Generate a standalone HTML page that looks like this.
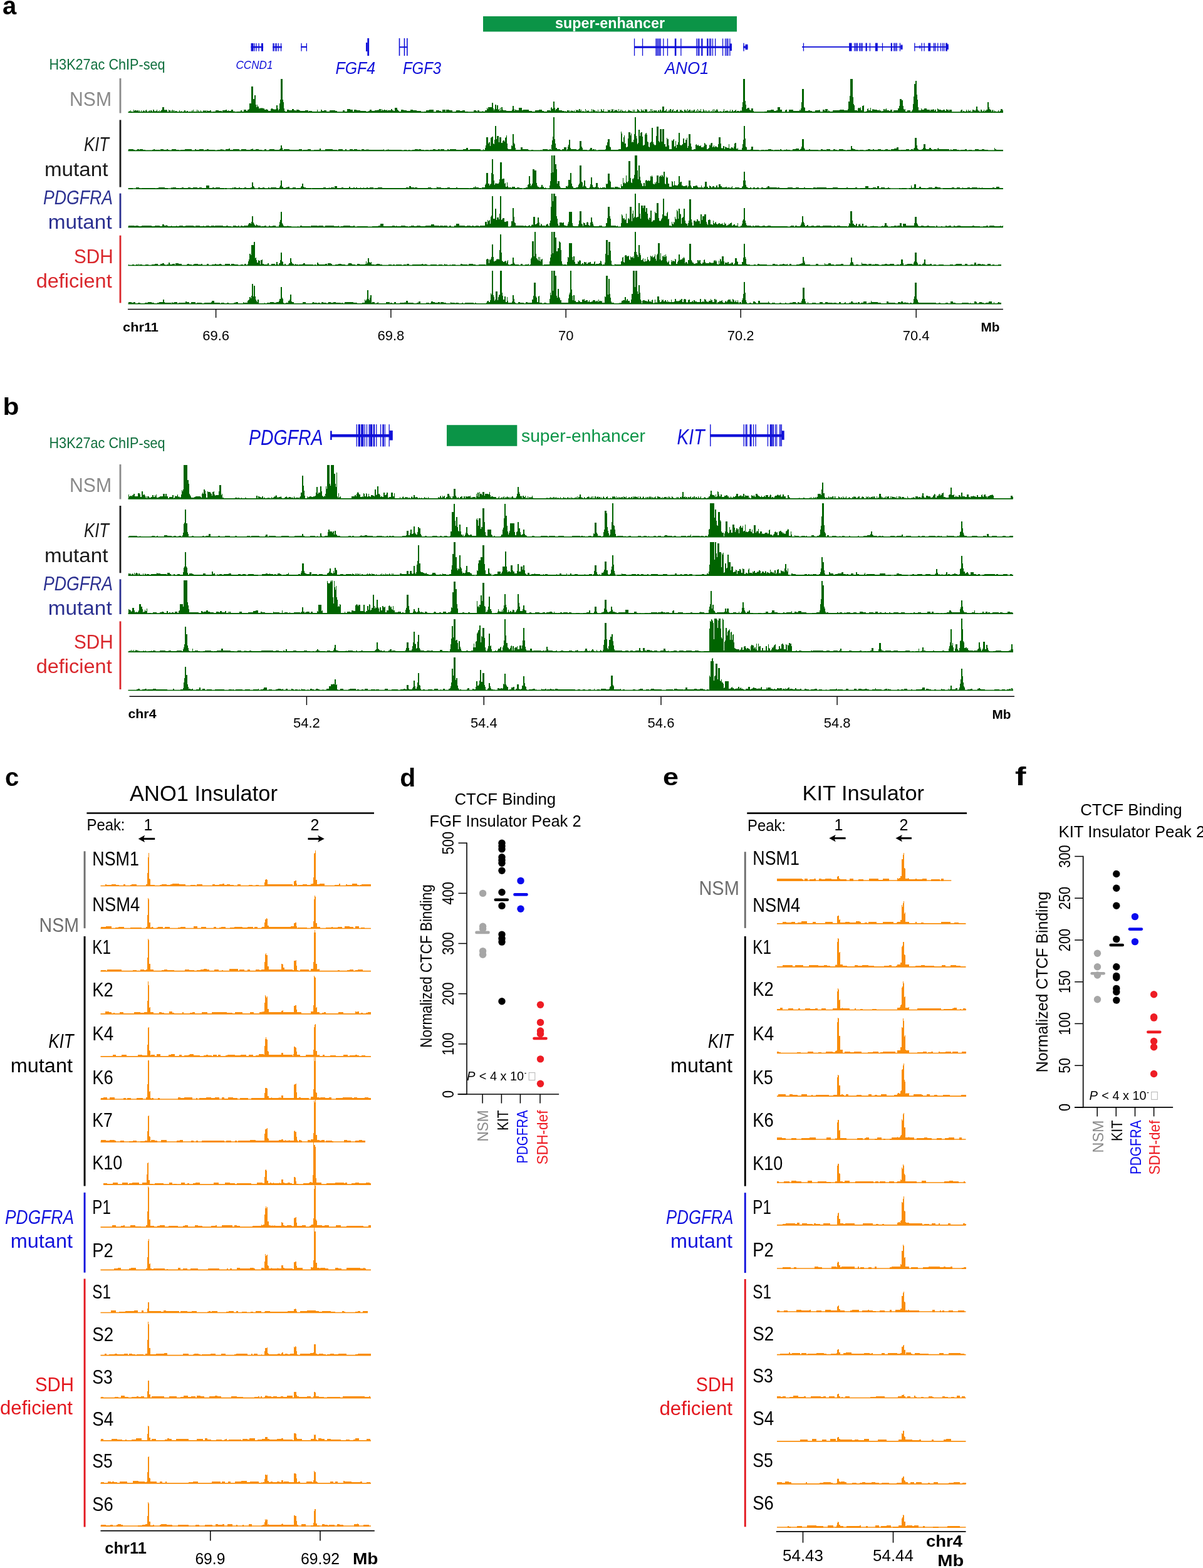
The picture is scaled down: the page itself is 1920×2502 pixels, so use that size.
<!DOCTYPE html>
<html><head><meta charset="utf-8"><title>Figure</title>
<style>
html,body{margin:0;padding:0;background:#fff;}
body{width:1920px;height:2502px;overflow:hidden;}
svg{display:block;}
text{font-family:"Liberation Sans", Arial, sans-serif;}
</style></head>
<body>
<svg width="1920" height="2502" viewBox="0 0 1920 2502">
<rect x="0" y="0" width="1920" height="2502" fill="#fff"/>
<text x="4.0" y="22.5" font-size="40" fill="#000" font-weight="bold">a</text>
<rect x="771.0" y="26.0" width="405.0" height="24.5" fill="#0B9447"/>
<text x="886.0" y="45.4" font-size="23" fill="#fff" font-weight="bold" textLength="175.0" lengthAdjust="spacingAndGlyphs">super-enhancer</text>
<rect x="400.6" y="73.8" width="19.5" height="2.6" fill="#1010D8"/>
<rect x="400.6" y="69.0" width="3.9" height="12.7" fill="#1010D8"/>
<rect x="405.4" y="69.0" width="1.3" height="12.7" fill="#1010D8"/>
<rect x="408.4" y="69.0" width="1.3" height="12.7" fill="#1010D8"/>
<rect x="412.4" y="69.0" width="1.3" height="12.7" fill="#1010D8"/>
<rect x="417.0" y="69.0" width="3.0" height="12.7" fill="#1010D8"/>
<rect x="435.4" y="73.8" width="14.6" height="2.6" fill="#1010D8"/>
<rect x="435.4" y="69.0" width="2.1" height="12.7" fill="#1010D8"/>
<rect x="438.9" y="69.0" width="1.3" height="12.7" fill="#1010D8"/>
<rect x="440.9" y="69.0" width="1.3" height="12.7" fill="#1010D8"/>
<rect x="443.9" y="69.0" width="1.3" height="12.7" fill="#1010D8"/>
<rect x="447.9" y="69.0" width="1.3" height="12.7" fill="#1010D8"/>
<rect x="480.3" y="73.8" width="9.7" height="2.2" fill="#1010D8"/>
<rect x="480.4" y="69.0" width="1.3" height="12.7" fill="#1010D8"/>
<rect x="488.7" y="69.0" width="1.3" height="12.7" fill="#1010D8"/>
<rect x="586.3" y="61.0" width="2.8" height="28.0" fill="#1010D8"/>
<rect x="584.0" y="68.0" width="2.5" height="14.0" fill="#1010D8"/>
<rect x="636.7" y="61.0" width="1.6" height="28.0" fill="#1010D8"/>
<rect x="644.7" y="61.0" width="1.6" height="28.0" fill="#1010D8"/>
<rect x="649.0" y="61.0" width="1.6" height="28.0" fill="#1010D8"/>
<rect x="637.0" y="74.2" width="13.5" height="2.0" fill="#1010D8"/>
<rect x="1012.0" y="73.6" width="155.0" height="3.2" fill="#1010D8"/>
<rect x="1011.9" y="61.5" width="1.3" height="27.5" fill="#1010D8"/>
<rect x="1024.9" y="61.5" width="1.3" height="27.5" fill="#1010D8"/>
<rect x="1046.3" y="61.5" width="1.3" height="27.5" fill="#1010D8"/>
<rect x="1048.1" y="61.5" width="1.3" height="27.5" fill="#1010D8"/>
<rect x="1049.9" y="61.5" width="1.3" height="27.5" fill="#1010D8"/>
<rect x="1051.8" y="61.5" width="1.3" height="27.5" fill="#1010D8"/>
<rect x="1053.5" y="61.5" width="1.3" height="27.5" fill="#1010D8"/>
<rect x="1058.2" y="61.5" width="1.3" height="27.5" fill="#1010D8"/>
<rect x="1064.8" y="61.5" width="1.3" height="27.5" fill="#1010D8"/>
<rect x="1076.8" y="61.5" width="2.6" height="27.5" fill="#1010D8"/>
<rect x="1086.2" y="61.5" width="1.3" height="27.5" fill="#1010D8"/>
<rect x="1111.2" y="61.5" width="1.3" height="27.5" fill="#1010D8"/>
<rect x="1113.6" y="61.5" width="1.3" height="27.5" fill="#1010D8"/>
<rect x="1115.3" y="61.5" width="1.3" height="27.5" fill="#1010D8"/>
<rect x="1119.2" y="61.5" width="2.3" height="27.5" fill="#1010D8"/>
<rect x="1128.2" y="61.5" width="2.3" height="27.5" fill="#1010D8"/>
<rect x="1132.0" y="61.5" width="1.3" height="27.5" fill="#1010D8"/>
<rect x="1133.8" y="61.5" width="1.3" height="27.5" fill="#1010D8"/>
<rect x="1136.8" y="61.5" width="1.3" height="27.5" fill="#1010D8"/>
<rect x="1141.0" y="61.5" width="1.3" height="27.5" fill="#1010D8"/>
<rect x="1152.9" y="61.5" width="1.3" height="27.5" fill="#1010D8"/>
<rect x="1157.0" y="61.5" width="1.3" height="27.5" fill="#1010D8"/>
<rect x="1159.3" y="61.5" width="1.3" height="27.5" fill="#1010D8"/>
<rect x="1161.2" y="61.5" width="1.3" height="27.5" fill="#1010D8"/>
<rect x="1164.2" y="61.5" width="1.3" height="27.5" fill="#1010D8"/>
<rect x="1164.5" y="69.5" width="3.5" height="11.5" fill="#1010D8"/>
<rect x="1186.3" y="68.7" width="1.4" height="13.0" fill="#1010D8"/>
<rect x="1186.3" y="73.5" width="7.0" height="3.2" fill="#1010D8"/>
<rect x="1189.5" y="70.8" width="4.0" height="8.5" fill="#1010D8"/>
<rect x="1280.0" y="74.0" width="160.3" height="1.8" fill="#1010D8"/>
<rect x="1281.8" y="68.6" width="1.3" height="13.0" fill="#1010D8"/>
<rect x="1355.1" y="68.6" width="4.4" height="13.0" fill="#1010D8"/>
<rect x="1363.0" y="68.6" width="1.3" height="13.0" fill="#1010D8"/>
<rect x="1365.2" y="68.6" width="1.6" height="13.0" fill="#1010D8"/>
<rect x="1367.5" y="68.6" width="1.6" height="13.0" fill="#1010D8"/>
<rect x="1371.4" y="68.6" width="1.6" height="13.0" fill="#1010D8"/>
<rect x="1373.8" y="68.6" width="1.3" height="13.0" fill="#1010D8"/>
<rect x="1375.6" y="68.6" width="1.3" height="13.0" fill="#1010D8"/>
<rect x="1381.5" y="68.6" width="2.3" height="13.0" fill="#1010D8"/>
<rect x="1387.8" y="68.6" width="1.3" height="13.0" fill="#1010D8"/>
<rect x="1396.9" y="68.6" width="3.9" height="13.0" fill="#1010D8"/>
<rect x="1407.8" y="68.6" width="1.3" height="13.0" fill="#1010D8"/>
<rect x="1421.7" y="68.6" width="2.3" height="13.0" fill="#1010D8"/>
<rect x="1426.3" y="68.6" width="1.7" height="13.0" fill="#1010D8"/>
<rect x="1428.8" y="68.6" width="1.3" height="13.0" fill="#1010D8"/>
<rect x="1430.6" y="68.6" width="1.3" height="13.0" fill="#1010D8"/>
<rect x="1435.8" y="68.6" width="1.3" height="13.0" fill="#1010D8"/>
<rect x="1437.5" y="71.5" width="3.0" height="7.5" fill="#1010D8"/>
<rect x="1459.6" y="74.0" width="54.0" height="1.8" fill="#1010D8"/>
<rect x="1459.2" y="68.6" width="1.3" height="13.0" fill="#1010D8"/>
<rect x="1470.5" y="68.6" width="1.3" height="13.0" fill="#1010D8"/>
<rect x="1474.4" y="68.6" width="1.3" height="13.0" fill="#1010D8"/>
<rect x="1481.3" y="68.6" width="3.9" height="13.0" fill="#1010D8"/>
<rect x="1489.8" y="68.6" width="1.5" height="13.0" fill="#1010D8"/>
<rect x="1492.1" y="68.6" width="1.3" height="13.0" fill="#1010D8"/>
<rect x="1496.1" y="68.6" width="1.3" height="13.0" fill="#1010D8"/>
<rect x="1500.8" y="68.6" width="1.3" height="13.0" fill="#1010D8"/>
<rect x="1503.8" y="68.6" width="1.3" height="13.0" fill="#1010D8"/>
<rect x="1506.1" y="68.6" width="1.3" height="13.0" fill="#1010D8"/>
<rect x="1509.2" y="68.6" width="2.8" height="13.0" fill="#1010D8"/>
<rect x="1467.5" y="72.5" width="1.4" height="5.0" fill="#1010D8"/>
<rect x="1511.0" y="70.5" width="2.8" height="8.5" fill="#1010D8"/>
<text x="376.5" y="109.9" font-size="17.5" fill="#1010D8" font-style="italic" textLength="59.0" lengthAdjust="spacingAndGlyphs">CCND1</text>
<text x="535.5" y="117.8" font-size="27" fill="#1010D8" font-style="italic" textLength="63.5" lengthAdjust="spacingAndGlyphs">FGF4</text>
<text x="643.0" y="117.8" font-size="27" fill="#1010D8" font-style="italic" textLength="61.2" lengthAdjust="spacingAndGlyphs">FGF3</text>
<text x="1061.0" y="117.8" font-size="27" fill="#1010D8" font-style="italic" textLength="70.5" lengthAdjust="spacingAndGlyphs">ANO1</text>
<text x="78.5" y="110.6" font-size="24" fill="#0E6E3C" textLength="185.0" lengthAdjust="spacingAndGlyphs">H3K27ac ChIP-seq</text>
<text x="178.0" y="169.0" font-size="31" fill="#8A8A8A" text-anchor="end" textLength="67.0" lengthAdjust="spacingAndGlyphs">NSM</text>
<text x="174.0" y="241.4" font-size="31" fill="#1a1a1a" font-style="italic" text-anchor="end" textLength="40.0" lengthAdjust="spacingAndGlyphs">KIT</text>
<text x="172.4" y="281.0" font-size="31" fill="#1a1a1a" text-anchor="end" textLength="101.5" lengthAdjust="spacingAndGlyphs">mutant</text>
<text x="180.0" y="325.7" font-size="31" fill="#2B3090" font-style="italic" text-anchor="end" textLength="111.0" lengthAdjust="spacingAndGlyphs">PDGFRA</text>
<text x="178.7" y="365.0" font-size="31" fill="#2B3090" text-anchor="end" textLength="102.0" lengthAdjust="spacingAndGlyphs">mutant</text>
<text x="180.7" y="420.0" font-size="31" fill="#D9262B" text-anchor="end" textLength="62.7" lengthAdjust="spacingAndGlyphs">SDH</text>
<text x="178.7" y="459.0" font-size="31" fill="#D9262B" text-anchor="end" textLength="121.0" lengthAdjust="spacingAndGlyphs">deficient</text>
<rect x="190.6" y="125.0" width="2.8" height="55.5" fill="#8A8A8A"/>
<rect x="190.6" y="191.4" width="2.8" height="107.2" fill="#1a1a1a"/>
<rect x="190.6" y="308.6" width="2.8" height="55.4" fill="#2B3090"/>
<rect x="190.6" y="375.7" width="2.8" height="107.7" fill="#D9262B"/>
<path d="M204.5,179.6v-1h1v-1.5h1v1h1v-2.5h1v2.5h2v1h1v-.5h1v-3.5h1v1.5h1v-.5h2v-.5h1v1h1v-.5h2v2h1v-2.5h1v3h1v.5h1v-3h1v3h1v-1h1v-1h1v-1h1v1h1v1.5h1v-2.5h1v-1h1v1.5h1v2h1v.5h1v-2.5h1v-.5h1v2h1v-2h2v1h1v2h1v-4h2v2h1v.5h1v-.5h1v-.5h1v-1.5h1v3h1v-1h1v1h1v-2.5h1v3.5h1v-2.5h1v-1h1v-.5h1v-4.5h3v4.5h1v1h1v-1h2v.5h1v3h1v.5h1v-4h1v.5h1v.5h1v3h1v-3.5h1v3.5h1v-4h1v1h1v2.5h1v-3h1v2.5h1v-1.5h2v1h1v1.5h3v-3h1v2h1v-.5h1v-.5h1v2h2v-1h2v-2.5h1v.5h1v2h1v-.5h1v-1h1v.5h1v2h2v-1.5h2v1.5h1v-1.5h1v-2h1v2h1v-2.5h1v3.5h1v-1h1v.5h1v1h1v-1.5h1v-2.5h1v4h1v-3.5h1v2h1v.5h1v1h1v-3.5h1v2.5h1v1h2v-3.5h1v1.5h1v-1h1v1h1v-1h1v1.5h1v-2h1v1h4v-1h2v4h3v-2h4v-2h5v1.5h1v-.5h4v3h1v-3.5h4v-.5h1v-.5h2v1.5h2v-.5h1v1h4v-2.5h3v3h1v-1h1v3h4v-2h6v-2h2v2h3v-2.5h4v2h2v-2h2v-1h1v-9.5h3v-27h3v20h2v-6h2v15.5h1v4h1v-4h1v3h1v-.5h1v3h3v-1h1v1h1v-.5h1v.5h1v.5h2v2h1v-.5h1v.5h1v-1h1v1h1v-.5h1v2h1v.5h3v-3.5h1v-1h1v.5h1v1h2v.5h1v-.5h1v1h1v-1h1v-6.5h2v5.5h1v2.5h1v-2h1v-8.5h1v-6h1v-33.5h3v33.5h1v3.5h1v10h1v4.5h1v.5h3v-3h3v1h5v-2h3v2.5h3v1h1v-2h4v.5h1v.5h1v.5h8v-.5h5v1.5h1v-.5h5v.5h8v-3h1v3h5v-2.5h2v1.5h3v-.5h4v1.5h5v-1.5h4v-.5h5v1.5h3v2.5h9v-4h3v2h4v-3.5h5v1h4v2.5h2v-3h4v1h3v.5h3v.5h4v.5h5v.5h4v-.5h2v-2.5h3v2.5h5v-1.5h1v.5h4v-1.5h1v1.5h1v-2h1v-.5h2v3.5h1v-3h1v2h3v-1h1v-.5h1v1h2v-1h1v2h1v-.5h4v-.5h1v-1.5h2v2h2v1h2v-5.5h4v3h1v1h1v1h1v1h3v-2.5h4v1h5v.5h6v-2h4v1h4v.5h2v1h1v-.5h1v.5h5v2.5h5v-2h3v-2h5v-1h2v.5h5v4.5h4v-4h5v1h3v3h2v-5h5v5h1v-5h5v1.5h5v3.5h4v-2h2v-1.5h1v-.5h1v.5h4v1h4v-1h4v1.5h5v2h9v-3.5h4v.5h1v3h1v-3.5h3v1.5h5v-.5h1v.5h3v-1.5h3v-4.5h1v2h1v-2.5h6v-7.5h2v9.5h1v3h1v-2.5h1v-6.5h2v6.5h1v-6h2v7h1v-.5h1v2.5h1v-4.5h1v3.5h1v-5h2v4h1v1h5v1h5v.5h4v-2.5h1v-5.5h2v4.5h1v3h1v-2h2v1.5h4v-4h5v4h2v-1h5v-.5h4v2h5v1h5v-2h6v-.5h5v2h3v.5h5v-1.5h5v.5h1v-4.5h1v-1.5h1v3h1v-1h1v-10.5h2v9.5h1v4.5h1v-2.5h1v.5h1v-2h3v3.5h2v.5h3v1h4v2h1v-2.5h1v1h2v-2h2v.5h1v3h1v-3h1v3h1v-2h1v-1h1v1h1v-.5h1v1.5h1v-2.5h1v2h1v1.5h1v-4.5h1v1h1v.5h1v-1.5h1v2h1v-2.5h2v2.5h1v-1.5h1v4h1v-2.5h1v1.5h1v-1.5h1v1h1v1.5h1v-5h1v5h1v-3.5h1v1h1v.5h1v-1h1v3h1v-1.5h1v1.5h1v-1h1v-4.5h1v5.5h1v-4.5h2v1.5h2v3h1v-2h1v.5h2v-2.5h1v4h2v-1.5h1v1.5h1v-5h1v1h1v2h2v-3h1v5h1v-1h1v-.5h1v1.5h1v-1.5h1v1.5h1v-4h1v.5h1v.5h1v-1h1v4h1v-2.5h1v-2.5h1v1h1v-1h1v4h1v-1.5h1v-2h1v1.5h1v-.5h1v-.5h1v1.5h1v1.5h1v-4h1v3.5h1v-.5h1v-2h1v4h1v-4h1v1.5h2v1h1v-.5h1v.5h1v-1.5h1v3h1v-1.5h1v1.5h1v-2h1v-2.5h1v1h1v1h1v.5h2v1h1v1h1v-4h1v4h1v-4.5h1v4.5h3v-1h1v-4h1v1h1v.5h1v1.5h1v2h1v-1.5h1v-3.5h1v2h1v.5h1v-1.5h1v2h1v1h1v-4h1v1h1v-1h1v.5h1v4.5h3v-2h1v2h1v-5.5h1v5.5h1v-5h1v2.5h1v2.5h1v-3h2v.5h1v-.5h1v-.5h1v2h1v1.5h1v-3h2v1.5h1v-2.5h1v-.5h1v3h1v-1.5h1v-6.5h3v7.5h2v-1h1v-2h1v5h1v-1h1v-2h1v3h1v-3.5h1v-1.5h2v3.5h1v-3h1v1.5h1v-2h1v5h1v-2h1v-.5h1v1h1v-1.5h1v-1.5h1v.5h1v4h1v-1.5h1v1.5h1v-4h1v.5h1v-1h1v2.5h1v-.5h1v2.5h2v-4.5h2v2h1v-.5h1v3h1v-5h1v3h1v-1.5h1v-1h2v3h1v-1.5h1v3h1v-3.5h1v1.5h1v-2h2v4h1v-1.5h1v-2h1v3.5h1v-5.5h1v5.5h1v-3.5h1v1.5h2v-3h1v4h1v1h1v-1h1v-4h1v2h1v1.5h1v-2h1v3.5h1v-3h1v1.5h2v-1.5h1v3h1v-3h1v3h2v-2.5h1v2.5h1v-4.5h1v4.5h1v-5h1v5h1v-3h1v1h1v-2h1v-1h1v2h1v1.5h1v.5h1v1h1v-2h1v.5h2v1.5h2v-2.5h1v-2.5h1v5h1v-2h1v-.5h1v.5h1v-1.5h1v1h1v2.5h1v-2h1v1h1v-3.5h1v3h1v.5h1v-3h1v.5h1v2h1v-1h2v-1h1v-.5h1v3h1v-1.5h1v.5h1v-.5h1v.5h1v.5h1v-1h1v-1h1v1h1v-5.5h1v-8.5h1v-37h3v35h1v6h1v7h1v-1h1v-1h3v3h1v1h2v-3h3v4.5h1v1.5h1v.5h1v.5h11v-1h1v1h3v-2h4v-1.5h6v-1.5h1v.5h4v1.5h4v-1h2v-5h4v4.5h3v4.5h5v-4h1v-.5h2v4.5h3v-5h7v2h1v.5h5v-.5h4v-1.5h1v1h1v-3h1v-10h1v-21.5h3v29.5h1v.5h1v5h5v-1h3v1.5h3v.5h5v-2h3v.5h1v-.5h2v-1h1v1h1v4h4v-4.5h3v1.5h1v-2.5h4v3.5h1v-1.5h1v1h1v.5h5v-1.5h2v-.5h1v.5h8v-1.5h7v1.5h2v-.5h4v-1.5h1v-12.5h2v-8.5h1v-27.5h4v29.5h1v11h1v2h1v7.5h1v.5h1v-.5h1v.5h1v1h1v-4.5h1v-.5h1v-.5h1v1h1v-1.5h1v4.5h2v-6.5h1v-.5h1v-.5h1v11.5h2v-1.5h2v-1h1v-3.5h1v-.5h1v3h3v-4.5h1v5h2v-2.5h1v.5h1v-1h1v1.5h5v.5h1v.5h1v-.5h1v-.5h1v2h1v-1h1v1h1v.5h1v-.5h2v-3h1v-.5h1v2.5h1v-2.5h1v-.5h1v3h2v-.5h1v.5h1v.5h2v-1.5h3v4.5h2v-3.5h1v-.5h4v.5h2v-3.5h1v.5h1v-4h1v-11.5h3v2h2v9h1v5.5h1v.5h1v-.5h1v3.5h3v-1.5h5v3.5h2v-3h1v-1.5h1v-9h1v-12h1v-20.5h2v-5h2v22.5h1v8h1v11.5h1v5h2v.5h2v-3.5h1v2h4v-1.5h4v2h3v-.5h1v.5h1v2h1v-2h2v-.5h2v-.5h1v1h1v1.5h1v-2h1v.5h1v2.5h2v-4.5h1v.5h1v1h4v1h1v.5h2v-1h3v1.5h2v-2.5h1v1h3v1.5h1v-2h4v5h8v-1h1v1h2v-1h1v1h1v-.5h1v-3h1v-1h1v-.5h1v4.5h1v-2.5h2v1h2v.5h1v-3.5h1v2h1v2.5h1v-4.5h1v2.5h2v-1.5h1v3.5h2v-1h1v-3.5h1v.5h1v.5h2v1.5h1v-2h1v-5.5h2v5h1v2.5h1v-1.5h1v2.5h1v1h1v-4.5h1v.5h1v2h1v.5h1v-1h1v-1.5h1v2.5h1v-1.5h1v.5h1v-1.5h2v-12h2v7.5h1v3h1v1.5h1v-.5h1v3.5h1v-2.5h1v-1h1v4.5h1v-3.5h1v2.5h1v-1h1v2h1v-1h1v.5h1v-1h1v-2h1v2h2v-1h1v-3h3v2h1v.5h.5V179.6Z" fill="#006400" shape-rendering="crispEdges"/>
<line x1="204.5" y1="179.1" x2="1601.0" y2="179.1" stroke="#006400" stroke-width="1.6"/>
<path d="M204.5,240.9v-3h5v.5h3v.5h2v1h3v-1h1v-.5h3v1h1v-1h5v1h4v1.5h4v-1h7v-1h2v-1h2v1h5v.5h3v.5h1v-2h5v1h1v.5h4v-1.5h2v1.5h2v1.5h4v-3h5v.5h2v1h5v1.5h2v-2h4v.5h3v-1.5h5v.5h6v1.5h2v1h3v-2.5h2v.5h5v-.5h3v-.5h4v3h2v-2h3v-.5h3v.5h10v2h1v-1h3v-.5h5v-1.5h2v1.5h1v-1h1v.5h2v1h2v-1.5h5v-1.5h2v2h5v-1h7v.5h3v1.5h3v-1.5h8v1h5v-.5h2v-.5h3v-1.5h1v2h4v-.5h5v1h5v.5h4v-2h3v3h4v-2h1v-1h8v1h5v.5h3v-1.5h1v-.5h1v-5.5h2v4.5h1v2.5h1v1h1v-1.5h9v.5h10v.5h5v-1.5h5v2h2v-.5h5v-.5h2v-.5h5v1.5h5v-1h5v.5h4v-2h2v2.5h3v1h4v-3h3v.5h4v-.5h5v1h7v1h2v-1.5h4v-.5h3v2h4v-1.5h2v1.5h5v-1.5h5v.5h2v-.5h5v1h5v1.5h2v-2.5h4v.5h4v-1h1v1h1v-.5h1v1h4v-.5h5v.5h15v-1.5h1v2h3v-1h3v-1h1v1h4v.5h10v-.5h2v.5h5v1.5h4v-1.5h4v1.5h3v-2h2v2h4v-2h2v.5h2v-1h5v.5h1v-.5h4v.5h5v2h2v-1.5h5v.5h2v-.5h5v-1h4v1h3v-.5h1v-.5h3v1.5h1v-2h5v.5h1v1.5h5v-1.5h2v1h2v-1.5h4v.5h2v-.5h4v1.5h7v-.5h4v-1h5v-2h3v3h3v-.5h17v2.5h4v-2.5h1v2.5h1v-2h1v-3h1v-4h1v-13h3v10h1v-2h2v6.5h1v-13h1v-1h1v-1.5h2v11.5h1v.5h1v-7h1v-21.5h2v20.5h1v-5h3v10h1v-8h3v9h2v-3h1v-1h1v.5h1v1.5h1v-6h1v-.5h1v-3h1v12.5h1v8h1v1.5h5v-6h1v1h1v-19.5h2v14h1v2h1v6.5h1v3h1v-.5h4v.5h2v-.5h1v-4h3v3.5h4v-.5h5v1.5h1v1.5h4v-1.5h3v1.5h7v-1h5v-1h1v1h2v-1.5h5v-.5h3v1.5h3v-1.5h2v1.5h1v-8h1v-7.5h1v-5.5h1v-31.5h2v35h1v7h1v7.5h1v-.5h1v2h5v1h2v2h1v-2.5h3v-3h4v5.5h1v-2.5h1v-4.5h1v-3h1v-7.5h2v13h1v1.5h1v.5h8v1h2v-.5h1v-1h1v-1h1v-12h3v9h1v2.5h1v2.5h7v1h3v-.5h1v-1h1v-2.5h3v3h1v-.5h3v1.5h1v-1.5h1v1.5h4v-.5h1v-.5h1v.5h4v-.5h5v-1h1v-5.5h2v-5.5h1v-5h3v12h1v1h1v4.5h2v-.5h10v-1h1v.5h3v-28.5h1v3h1v13h1v1h1v-8h1v-2.5h1v13h2v5.5h1v.5h1v-1h1v-13h1v-10.5h3v5.5h1v-3h1v14h1v-1h1v.5h1v-4h1v-8.5h1v-27.5h2v30.5h1v4h1v8.5h1v-1.5h1v-21.5h2v10h1v-4.5h1v-1h2v6.5h1v14h1v.5h1v-1.5h1v-15.5h1v-2.5h1v-1h1v3h1v11h1v1.5h1v7h1v1h1v-7.5h1v-.5h1v-1.5h1v-21.5h2v23h1v2.5h1v1.5h1v1h1v-1.5h1v-14h1v-14.5h3v22.5h1v2.5h1v-21.5h3v20h1v-20h3v24.5h1v-.5h1v4.5h2v-14h1v1.5h2v10h1v6.5h4v-14h1v1h1v-2.5h1v-1h1v12h1v-.5h1v-8.5h1v11h1v-4.5h1v-.5h1v-4h1v-15h2v19.5h1v1h1v-.5h1v-1h1v-.5h1v-9.5h2v7h2v-5h1v.5h1v-3h1v16h1v-3h1v-19.5h3v15h1v5.5h1v4.5h3v-.5h1v-.5h2v-6.5h1v-1h1v1.5h2v-1h1v2.5h1v-.5h1v.5h1v-1h1v3h1v-.5h1v.5h1v-.5h1v-1.5h1v-5h1v.5h1v2h1v.5h1v7h2v-1.5h1v-1h1v-5h1v1h1v-2.5h1v-1h2v6.5h1v-1h1v-2h1v3.5h1v-1.5h1v-1h1v1.5h1v.5h1v.5h1v-5.5h1v-11h3v10h1v7.5h1v.5h1v-.5h1v-3.5h1v.5h1v5h1v-4h1v.5h1v.5h1v.5h1v.5h1v-.5h1v-6h1v7h1v.5h1v-.5h1v-1.5h2v.5h1v1h1v-3h1v-5h1v-.5h1v-.5h1v9.5h1v.5h1v-2h1v3.5h1v-.5h1v.5h4v-3.5h1v-5.5h1v-7h1v-22h2v19.5h1v13h1v1.5h1v3.5h6v-.5h1v-4.5h3v5.5h1v-.5h8v1h4v-1h5v2h1v-2h3v.5h2v-1h5v.5h3v1h2v-1h8v1h1v-1.5h2v.5h1v1h3v-.5h4v-1h1v.5h5v2h4v-2.5h5v-1h5v2h2v-1h1v-1h1v-3.5h1v-12h3v14h1v2h1v2h1v-1h5v-.5h2v1h5v-.5h8v2h4v-2.5h3v1h5v1.5h1v-2.5h6v2.5h5v-2.5h3v1h3v1.5h3v-2.5h7v1h3v.5h3v-.5h5v-.5h1v-6h2v4h1v.5h1v.5h3v1.5h5v1.5h2v-1.5h6v.5h4v-1h3v-.5h4v1h4v-1h2v.5h6v-1h5v1.5h4v1.5h1v-1.5h2v-1.5h4v1h4v1h1v-1.5h5v-1h4v-2.5h3v4h1v.5h1v.5h1v-1h9v-1h5v2h1v-.5h2v-1h3v.5h1v-1.5h1v-1.5h1v-15.5h3v12h1v4.5h1v1.5h1v1h5v-1.5h2v-1.5h1v-6.5h3v7h1v1.5h5v-2h3v2h2v1h2v-1.5h4v.5h1v.5h1v-2h1v-.5h1v2h17v2.5h2v-2.5h1v.5h3v-.5h4v-.5h2v1h4v1h1v1h1v-1.5h7v-1.5h3v2h3v-.5h5v1.5h5v-2.5h2v-.5h4v1h5v-.5h4v1h6v.5h10v-3.5h1v2h2v.5h11.5V240.9Z" fill="#006400" shape-rendering="crispEdges"/>
<line x1="204.5" y1="240.4" x2="1601.0" y2="240.4" stroke="#006400" stroke-width="1.6"/>
<path d="M204.5,301.5v-1.5h7v1.5h5v-2.5h5v.5h2v1h2v-1h10v.5h7v-.5h5v1h2v-1h3v-.5h10v.5h5v2h5v-3h1v1h1v-1h3v.5h3v.5h5v1h1v-1h3v-.5h3v1h7v-1h4v1h4v-1h7v.5h2v.5h1v-1h4v1h7v-4h5v3.5h5v-1h3v1h2v-.5h3v-.5h4v1.5h3v-.5h4v2h1v-2h3v2h5v-1h4v-2h1v3h1v-2.5h4v.5h2v.5h2v-1h2v.5h4v2h1v-1.5h2v-1h3v.5h4v.5h3v-1h1v-.5h1v-8h2v6.5h1v1h1v2h1v1.5h5v-3h3v1h4v-.5h3v1h1v.5h5v-2h2v2h2v-2h9v1.5h5v-2h1v-2.5h1v-7.5h2v9.5h1v.5h1v2h4v-1.5h3v-1h3v3h5v-1.5h5v1.5h2v-1h4v.5h1v-.5h1v-1.5h1v-1.5h1v-4h2v5h1v1h1v.5h2v1h9v1.5h1v-2h8v.5h7v-.5h3v-1h4v2h1v-1h4v-.5h1v.5h2v-.5h5v.5h1v-3h4v3.5h3v-.5h4v-.5h3v.5h9v-2h2v2.5h5v-1h2v1h2v-1h2v.5h5v-.5h1v.5h4v-.5h1v1h4v-1h2v1h3v-1h6v2.5h2v-1.5h5v-1h7v.5h12v.5h2v-.5h4v.5h2v-.5h7v.5h11v-1.5h4v1h1v-3h3v2h5v1h1v-.5h4v1h8v-.5h5v.5h1v-.5h3v-.5h5v.5h2v2h2v-1h5v-2.5h1v1h3v-.5h3v1h3v.5h2v.5h1v-.5h3v-.5h1v-1h4v1h1v.5h9v-1h2v.5h3v.5h10v-.5h5v1h2v-1h5v-.5h3v-2h1v2h5v1h4v1.5h1v-3h5v-3.5h1v-2h1v-17h3v17h2v3h1v-2h1v-1.5h1v-17h1v-21.5h2v24h1v9.5h1v7.5h1v-2.5h1v-.5h1v.5h1v.5h3v-2.5h1v-4.5h1v-27.5h3v27.5h1v-1.5h3v8h1v-1h1v6h2v-6.5h1v5.5h1v2h5v1.5h1v-2.5h5v2.5h3v-1h4v.5h4v2h3v-2h2v.5h1v-1h3v-4h1v-1h1v-13.5h2v12h1v4h1v-2h1v-1.5h1v-23h3v2h3v20h1v3.5h1v2h2v1.5h3v-1h1v-3.5h2v3h2v2h2v-1h1v1h1v2h3v-1h2v-4.5h1v-7h1v-13h1v-28h2v27h1v-27h3v13.5h2v8.5h1v23h1v-4.5h3v8.5h1v1.5h1v1.5h8v-3h2v.5h1v-2h1v-9h3v-10.5h2v17h1v4h1v1h1v1.5h4v-.5h3v-1h1v-3.5h1v-2h1v-29h3v26.5h1v1h1v6.5h1v-1.5h1v-8.5h2v9h1v1.5h1v2h2v.5h2v-.5h1v-2.5h1v-3.5h1v-11.5h2v12.5h1v2.5h1v1h2v.5h1v-1h1v-6.5h3v7.5h2v1.5h1v1h1v-3h1v1.5h2v-1h5v.5h1v-6.5h1v.5h1v-.5h1v-16h3v11h1v1.5h1v9.5h5v1.5h1v-3h5v1h3v2h2v-6.5h1v3h1v-.5h1v-13h1v8.5h1v-1h1v1.5h1v-.5h1v-12h1v10h1v1h1v-2.5h1v-31.5h3v26.5h1v7.5h1v1h1v-7h1v1h1v-2.5h1v-4.5h1v-31h4v23.5h1v14.5h1v-22h2v17.5h1v6h1v4.5h1v1.5h1v3h1v.5h1v-5.5h1v.5h1v5h1v-9.5h1v-1h1v1.5h1v.5h1v-.5h1v-.5h1v1.5h1v-1h1v-7h1v1h1v-2.5h1v2h1v11h1v1.5h1v-.5h1v-3h1v2h1v-3h1v-10h3v12.5h1v-10.5h1v-.5h1v-1h1v1.5h1v-2.5h1v.5h1v2.5h1v-8.5h2v19h1v1h1v-12h1v2h1v-.5h1v10h1v-.5h1v5h4v-8.5h1v.5h1v6.5h2v-7h1v6h1v1h1v-.5h1v.5h1v-.5h1v-2h1v-13h2v10.5h1v-1h2v6h1v-.5h1v1h1v.5h2v-.5h1v-.5h2v-.5h1v3.5h1v-2.5h1v-9h3v8h1v2.5h1v1.5h1v.5h1v-3h4v-1h2v-.5h1v2h1v1.5h3v-.5h2v-2.5h1v3h2v.5h1v-1.5h1v-.5h1v-8h3v8.5h1v-.5h1v2h2v-3.5h1v.5h2v2h2v-1.5h3v1.5h1v.5h2v-3h1v-.5h1v3h2v-5h3v3h2v2h1v.5h2v-.5h3v-1h2v2.5h1v-1.5h4v1h1v-.5h1v-.5h1v-2h1v4h4v-1.5h7v.5h2v.5h2v-2.5h1v-1h1v-9h1v-14h2v14h1v7h1v3h1v1.5h2v1h3v-1h2v2.5h3v-2.5h3v2.5h1v-2h2v-.5h2v-.5h1v3h4v-2.5h3v.5h5v-.5h2v-2h3v2h2v-.5h5v.5h5v1h1v-1h3v1h5v-.5h8v-1h3v.5h5v1h5v-1h5v1h8v-1h2v.5h4v.5h6v.5h3v-2h2v.5h1v-.5h1v1.5h1v-1.5h16v1h1v1h1v-1h3v.5h5v-1h5v-.5h3v1.5h5v-.5h5v.5h4v-1h2v.5h5v.5h7v-1h3v1.5h5v-1h8v-3h5v3h3v1h1v-1h1v.5h2v-1.5h1v.5h4v1h2v-3h3v3.5h3v-1.5h6v1.5h3v-1h2v-.5h2v1h1v-.5h1v2h14v-2h2v1h2v-.5h1v-.5h7v2h4v-1.5h3v-4h1v3h1v1h2v-1.5h1v-4.5h3v5.5h5v-2h3v2h4v.5h3v.5h3v-.5h2v-1h6v1.5h1v-.5h3v-2.5h4v1.5h5v2.5h4v-1.5h14v-1h4v1.5h4v-2h5v2h4v-1.5h1v.5h5v.5h2v-1.5h3v.5h1v1h3v-1.5h9v2h2v-1.5h1v1h4v-1h1v.5h3v.5h3v-.5h10v-.5h3v.5h3v-2h5v2.5h2v-.5h4.5V301.5Z" fill="#006400" shape-rendering="crispEdges"/>
<line x1="204.5" y1="301.0" x2="1601.0" y2="301.0" stroke="#006400" stroke-width="1.6"/>
<path d="M204.5,362.9v-2.5h5v-.5h4v.5h1v1h1v-1h5v.5h5v-.5h5v-.5h2v.5h4v-.5h5v1h5v-1h7v.5h1v1h4v-3.5h3v2h3v-.5h1v1h2v1h4v-.5h1v-.5h1v.5h7v-.5h1v.5h4v-.5h1v-.5h5v1h4v-1h13v1h2v1h1v-1.5h5v-.5h2v1.5h5v-1h1v.5h4v-.5h5v1h3v-1.5h5v1h1v-1h2v.5h4v-.5h4v.5h3v1h5v-1h3v.5h5v2h3v-2.5h2v-.5h3v1h3v-.5h1v-.5h1v2h2v-2h3v1.5h2v-1h2v-.5h5v-1.5h1v-2.5h3v1h1v-3h1v-8.5h2v9.5h1v2.5h1v2h1v.5h2v-2h1v1.5h1v1h5v2.5h1v-1.5h5v-1.5h3v3h4v-2.5h2v1h4v-1h5v2.5h5v-3.5h1v-5.5h1v-3h1v-12.5h2v17.5h1v2h1v2h1v1.5h6v-1h1v1h5v1.5h5v-1h5v-1h1v2h3v-3h3v1.5h13v.5h1v-1.5h7v-.5h4v1h1v-1h1v.5h2v-.5h4v.5h1v2.5h3v-3h5v.5h4v-.5h5v1.5h2v-.5h5v-1h1v3h3v-2h4v-.5h5v-.5h2v.5h4v1h5v-1.5h2v3h4v-2h12v.5h2v-.5h3v1h7v-.5h10v-1h3v-3.5h5v4.5h8v-.5h6v-.5h4v1h2v-1.5h1v1.5h4v-.5h1v.5h2v-1.5h2v.5h5v1h4v1.5h1v-1h1v-1h3v-.5h5v1h4v-1.5h1v.5h5v.5h8v-1h2v.5h2v-.5h4v.5h1v-2.5h5v2h3v.5h5v1h1v-1h5v.5h1v-1h6v2h3v-2h3v3h5v-3h1v.5h2v-3h5v3h5v-.5h4v1.5h3v-1.5h2v.5h4v.5h2v-1h3v1h3v-.5h5v1h2v-1.5h6v.5h1v-.5h1v-5.5h2v-.5h1v4h1v-7h1v2h1v-1h1v-1h1v6.5h1v-11.5h1v-1.5h1v-31.5h2v36h1v.5h2v-16h2v17.5h1v-4h3v3.5h1v-9.5h1v-27.5h2v37.5h1v-1h1v-2h3v6.5h2v-.5h1v-.5h1v-.5h1v.5h1v8.5h4v-1.5h1v-7.5h2v-21h2v14h1v9h1v1.5h1v4h13v1h1v-1h3v.5h3v-.5h2v-1h1v2h1v-.5h1v-2h1v-.5h1v.5h1v-13h3v12.5h2v-1.5h1v-.5h1v-9.5h2v8h1v5.5h1v-.5h1v-2.5h1v.5h1v2h1v.5h4v.5h1v-2h1v-.5h1v-1.5h1v1h1v2.5h1v1h1v-5h1v-4h1v-22h1v-21.5h2v12h1v-12h3v4h2v32h1v4h1v8h1v3h2v-4.5h1v-.5h3v1h1v-.5h2v3.5h1v1.5h3v.5h1v-1h1v-3h1v-2.5h1v-16.5h5v18h1v4h1v1.5h7v-.5h1v-2.5h1v-6h1v-15h3v20h1v.5h1v3h1v-5.5h1v.5h2v3h2v-3.5h1v-1h1v1h1v4h1v.5h2v-5h1v-8h2v7.5h1v3h1v2.5h1v1.5h4v-.5h4v-1h3v.5h2v2.5h5v-1.5h1v-5h2v-8h1v-18h3v15h1v4h1v10.5h1v.5h5v-.5h2v1.5h2v-1h1v1.5h5v-6h1v-13.5h1v2h1v3.5h1v1.5h1v-1h1v2.5h1v-.5h1v-9.5h1v15h1v.5h1v-7h1v-1h1v2h1v-20.5h3v23h1v-12h1v-5h1v12h1v-1.5h1v-37.5h2v38.5h1v-.5h1v-.5h2v-22.5h2v17h1v8h1v-21h3v4h1v-4h3v10h1v-6h1v.5h1v9h1v7.5h1v2h1v-3.5h1v1h1v-12.5h2v18h1v-.5h1v-2h1v.5h1v-.5h1v-13.5h1v2h1v.5h1v-16.5h3v24.5h1v4h1v.5h1v-.5h1v-2h1v-2.5h1v-6h1v-25h2v27.5h1v.5h1v-1h1v1h1v-5h1v-2h1v12h1v-1h1v11h3v1.5h1v-7h1v3h1v.5h1v-3.5h1v.5h1v-9h1v3h1v1.5h1v-15.5h1v2.5h1v12h1v-16h2v8h1v1h1v15h1v-9.5h1v-1h1v-.5h1v-13.5h2v19h1v4h1v1.5h2v3h1v-4h1v-4.5h1v-34h3v32.5h1v5h1v4.5h2v-7.5h1v-.5h1v.5h1v1.5h1v-1h1v-2.5h2v2.5h1v-1h1v1h1v4h1v-15h2v9h1v-6h3v-3h3v12.5h1v3h1v1.5h1v-8h1v.5h1v-1h1v1h1v7h3v.5h1v-7h1v4.5h1v.5h1v-2h1v-.5h1v3h1v1h2v-1h1v-1.5h2v2h1v-.5h1v-.5h1v1h1v-1.5h1v3h1v-.5h1v-3.5h1v2h1v-.5h1v3h2v-1h2v-1.5h1v.5h1v-1.5h2v-1h1v4.5h2v-1h1v-.5h2v1.5h1v.5h1v-.5h2v-4h1v6h4v-2h2v-2.5h1v-5h1v-2.5h1v-17.5h2v20h1v3.5h1v3.5h1v.5h4v.5h3v1h1v1.5h1v-3h2v1.5h2v-1.5h5v.5h2v1h1v-.5h4v-1h4v1h4v-1h5v1h5v.5h7v-.5h4v.5h3v-.5h8v2h4v-1.5h1v-1h5v2.5h2v-3h3v1.5h5v-1.5h1v-2h1v-2.5h1v-10h2v8.5h1v2.5h1v3h1v2h1v-.5h1v-.5h1v-1.5h2v2.5h5v-1.5h4v1h4v-.5h5v-.5h1v1h4v-.5h2v-.5h7v.5h5v1h4v-1h2v.5h3v-.5h5v.5h8v.5h3v1.5h2v-2.5h1v-4.5h1v1h1v-19.5h3v14.5h1v5.5h2v2h2v1h1v-3h1v-.5h1v4h2v-2.5h1v-.5h1v-.5h1v2.5h2v1h1v-4h1v.5h1v3.5h2v-1h4v3h5v-1.5h2v-.5h2v-.5h1v.5h7v2h5v-1.5h2v-1h1v.5h2v-1h1v-4h3v4.5h1v-.5h1v2.5h1v.5h4v-1.5h5v-1h4v1.5h1v-2h4v-4h3v5h1v1h1v-4.5h5v3h8v-.5h2v.5h2v-.5h1v-4h1v-9.5h3v9.5h1v2.5h1v2h1v1h1v-.5h3v-.5h4v.5h5v-.5h4v1h4v-.5h5v1h2v-2h2v3h4v-1h2v-1h2v1h5v-1.5h2v.5h3v-.5h4v2.5h4v-3h2v1.5h4v-1h5v.5h10v.5h4v-.5h5v-.5h3v1h4v-.5h5v2h5v-1.5h5v-1.5h3v3h2v-2.5h8v.5h5v.5h1v-.5h3v-1h1v1h3v-1h1v.5h.5V362.9Z" fill="#006400" shape-rendering="crispEdges"/>
<line x1="204.5" y1="362.4" x2="1601.0" y2="362.4" stroke="#006400" stroke-width="1.6"/>
<path d="M204.5,424v-2.5h1v2.5h3v-1h2v-1.5h3v1h3v-.5h3v.5h1v-1.5h1v3h1v-2.5h4v1h2v.5h1v-.5h2v-1h5v1h5v-1h1v.5h4v-1h5v1.5h4v-1.5h3v-1h3v2h2v.5h2v-1h3v-2.5h2v3h4v-1h4v1.5h1v-2.5h5v1h5v2h5v-.5h2v.5h1v-1.5h1v-.5h3v1h4v.5h2v-.5h2v-1h6v.5h5v-.5h2v2h2v-.5h5v-1.5h3v1.5h5v-.5h5v-1h2v1h5v-1h3v.5h1v1.5h5v-2h8v1.5h2v-1.5h5v1h1v-.5h5v1h4v-.5h4v1h2v-2h3v3h2v-3h1v-4h1v-3h1v-9h2v2h1v-16h4v-5.5h2v26h1v-.5h1v4h1v4h1v-.5h1v-3.5h1v.5h1v.5h1v5.5h1v-6.5h1v-.5h1v-1h1v7h2v1h6v-1.5h2v2.5h4v-1.5h6v1.5h1v-1h1v-3.5h2v4h1v.5h1v-2.5h2v-5.5h1v-11.5h2v13.5h1v1h1v4h1v1.5h1v-2h2v2h4v-1h1v-2h1v-.5h1v-8h2v6h1v2.5h1v1h2v2h1v-1h1v-1h1v.5h4v1h1v-1h6v-.5h1v-1h3v2h10v-.5h3v1h2v-.5h2v.5h2v-3.5h2v2h1v1h10v-1h3v1.5h1v-3h5v1.5h2v2h5v-1h5v-1h5v1h6v.5h4v-1h1v-1.5h5v1h1v1h5v.5h3v-1.5h4v.5h4v.5h3v-.5h2v-.5h1v-4.5h1v4.5h1v-2h1v-7.5h2v6.5h1v.5h2v-1h1v4.5h2v-.5h3v1h1v-.5h2v-1h5v.5h4v1h10v-.5h5v1h2v-1.5h3v1h2v-1h5v.5h4v2h2v-1.5h1v-.5h4v1h1v-2h4v1.5h5v-1h4v.5h6v-.5h5v-.5h2v1h4v-1h1v.5h2v1h5v-1h5v.5h5v.5h3v-.5h6v.5h3v-1.5h1v1h4v.5h4v-.5h1v.5h2v-1h6v1.5h5v-.5h3v-1.5h3v.5h8v2.5h1v-1.5h1v-1.5h7v.5h4v1h5v-1h4v.5h5v-.5h2v2.5h1v-10.5h1v-.5h1v-.5h1v1.5h1v5.5h1v-5.5h1v1h1v-2.5h1v-2.5h1v-20h2v19.5h1v7h2v-1h1v.5h1v-2h1v-1h1v.5h1v-.5h1v1h1v-15.5h1v-24.5h2v28.5h1v13h1v1.5h1v.5h1v.5h1v-1h1v-1.5h1v1h1v3.5h1v-3.5h1v-2h1v7h1v.5h1v.5h1v-.5h2v-1h1v-.5h1v-10h2v8.5h1v2h1v1h3v-.5h3v2.5h3v-3h3v3h4v-2.5h5v-1h1v2h2v-1h1v-8.5h1v-2h1v-26h3v24h1v-39h2v35h1v7h1v.5h1v2h1v-5h1v6h1v-5.5h1v7h1v-3.5h1v.5h1v-1h1v9.5h2v-1h5v.5h4v-5h1v-6h1v-5h1v-36h2v33.5h1v-33.5h3v9h2v22h1v-.5h1v-4.5h2v-11.5h1v1h1v1.5h1v11.5h1v18.5h1v4h1v1.5h1v-1h5v1.5h1v-5h1v-8h1v.5h1v-22.5h5v22h1v4.5h1v-5.5h2v8.5h1v3h1v.5h2v-.5h1v-4h1v1.5h1v-2h1v-1h1v1h1v5.5h1v-.5h1v-1h1v-.5h1v2h1v-4h2v1h1v-.5h1v3h2v-2.5h1v.5h1v-.5h1v-.5h2v3h2v-.5h2v.5h1v-3.5h1v-.5h1v5h1v-1.5h2v.5h1v-.5h2v-.5h2v-4h1v.5h1v4.5h1v2h1v-1.5h2v.5h1v-3.5h1v-14h1v-22h3v24h1v-20.5h3v13.5h1v16.5h1v6h1v1h2v-.5h2v-1.5h1v1h4v-.5h2v.5h2v-.5h1v-5h2v-6h1v-.5h1v8h1v.5h1v-10.5h1v-1h2v1.5h1v.5h2v-1h1v5.5h1v1.5h1v-6h1v2h1v-1.5h1v1h1v-1.5h1v3h1v-10.5h1v-31.5h2v32h1v3.5h1v1h1v3.5h1v-19h2v13h1v3h1v8h2v-1.5h1v-2h1v5.5h1v.5h1v-4.5h1v3.5h2v-1h1v-6h1v4h1v1.5h1v1.5h1v-.5h1v-8h1v.5h1v1.5h1v-2h1v2.5h1v-1h1v-.5h1v-3.5h1v7.5h1v2.5h1v-8.5h1v-2h1v-17h3v25.5h1v-9.5h1v11.5h1v-.5h1v-6.5h1v-1h1v2.5h1v-3h1v2.5h1v-3.5h1v2.5h1v8.5h1v1.5h1v-.5h1v-2h1v6h2v.5h1v-8h1v3h1v-1.5h2v.5h2v-4h1v1h1v7.5h2v-3h1v-2.5h1v-9.5h2v9h1v-1h2v-.5h1v-2h2v-2h1v2h1v8h1v-2h2v1h1v2.5h1v-6.5h1v.5h1v-26h3v25.5h1v2.5h1v2h2v1.5h3v-.5h2v-.5h1v-4.5h1v-.5h1v2.5h1v-2h2v5h1v1h2v-2h2v-4h1v-1h1v4h1v1.5h4v.5h2v-2h1v.5h2v1h1v-.5h1v.5h1v-.5h1v-3.5h1v-.5h1v2h1v-2h1v1.5h1v4.5h1v.5h1v.5h1v-6.5h1v5h1v-7.5h1v.5h1v3.5h1v-8h3v7.5h1v5h1v-3h2v.5h1v.5h1v-2h2v3h1v.5h1v-1h1v.5h1v-1.5h3v3h1v-.5h1v-2h1v-7.5h3v4.5h1v1.5h1v3.5h6v-3.5h1v-.5h1v-6.5h1v-22h2v20.5h1v3.5h1v7.5h1v1h5v1h6v-1h3v1h3v-1.5h3v1h7v-.5h5v1h9v-1.5h4v1h4v.5h3v-.5h4v-.5h1v-.5h3v.5h4v-.5h1v1.5h3v-1.5h3v2h3v-.5h5v-1h5v-.5h3v-1.5h2v-10h2v6.5h1v3h1v3h8v.5h9v-1.5h4v3h5v-1.5h5v-3h1v2h5v-2h4v2.5h5v2h3v-2.5h8v-.5h4v1.5h9v.5h1v-1h1v-3.5h1v-7.5h2v6.5h1v1.5h1v2.5h1v1h3v-.5h4v.5h5v-4h1v2.5h7v.5h2v1h1v-1.5h5v3h1v-2h5v-1h2v.5h1v-.5h1v1h2v.5h4v-1h5v-.5h4v1h4v-1h7v1.5h4v-1h4v1h1v-.5h1v-1h1v-7.5h3v6.5h1v2.5h3v-.5h3v-1h8v1h2v-3.5h1v-2h1v-13.5h3v15h1v2h1v2.5h1v-.5h4v1h2v-2h2v-2h1v-5.5h2v7.5h1v.5h2v.5h4v-1h3v1.5h3v-.5h4v.5h4v-1h8v1h10v-1h5v1h3v-1h2v-.5h9v3h5v-3h4v1.5h5v-.5h1v-.5h3v1h1v-.5h1v-3h3v3h1v1h1v-2h5v1h3v-1h1v1h3v1h4v-2h5v1.5h3v-1h2v.5h1v.5h6v-1h5.5V424Z" fill="#006400" shape-rendering="crispEdges"/>
<line x1="204.5" y1="423.5" x2="1598.0" y2="423.5" stroke="#006400" stroke-width="1.6"/>
<path d="M204.5,485.3v-3h5v.5h3v-.5h3v1.5h4v-.5h4v.5h2v.5h5v-1h5v-1h6v1h4v.5h5v-1h3v-.5h6v-4h2v3.5h1v1h1v.5h9v2h1v-3h1v1h3v-1h5v1.5h2v-1h11v-2h2v1.5h4v2h3v-2h7v2h2v-1.5h8v1.5h4v-1h2v-.5h9v-.5h1v-2.5h4v3h5v.5h4v.5h2v-1h5v1h4v-.5h3v.5h5v1.5h3v-2h3v-1h4v3h8v-3h1v1h4v-.5h2v-2.5h1v-1.5h1v-.5h1v-4.5h2v2h1v-4h1v-19h2v20h1v-16.5h2v16.5h1v5.5h1v2h1v2h1v-4h2v6h5v1h4v-2h1v.5h3v-.5h5v-1h6v1h4v-1h4v-2h1v-3h1v-.5h1v-19h2v17.5h1v2h1v5.5h1v1h3v-.5h4v-3h1v-.5h1v-2h1v-8h2v11.5h1v1h3v1.5h3v.5h5v-.5h2v.5h4v-2h5v1.5h10v-.5h1v-1h2v.5h5v2.5h1v-2.5h4v1.5h2v-2h3v.5h5v1h2v-.5h1v-1h4v1h4v-1h4v1h8v.5h1v-1h2v1h3v-1.5h14v1h5v-.5h1v2.5h3v-1.5h5v-.5h4v-5.5h1v2h1v-1h1v-1.5h1v-14h2v13.5h1v2h1v-3.5h1v-4.5h1v.5h1v12h1v-1h4v1.5h3v-.5h2v-1h1v1.5h3v.5h4v-.5h5v-1.5h6v3h1v-2.5h3v1h3v-1.5h3v1.5h6v-.5h5v-.5h3v-.5h1v1h1v-3h3v2.5h8v.5h1v1h5v-1h3v-2h3v2.5h7v1.5h2v-2h5v.5h2v-.5h1v-2h3v1h3v1h2v-.5h3v-.5h3v3h1v-3h5v.5h4v1h2v.5h5v-2h1v1h5v-.5h1v1h1v-1h5v1h2v1.5h3v-2h2v2h3v-2h14v.5h2v-.5h2v1h4v1h3v-1.5h5v.5h3v-.5h1v-1h1v-2h1v-.5h1v-.5h1v2.5h2v-3.5h1v-10.5h1v2h1v-38.5h2v39.5h1v3h1v6h1v-2h1v-13h3v14h1v-5.5h1v-2.5h1v-1.5h1v-38h3v35.5h1v4.5h1v6h1v.5h1v-5h1v-.5h1v9.5h2v-8h1v6h1v3h1v-.5h5v-1.5h1v-10.5h2v6.5h1v5h1v.5h1v1h4v-2h3v1h6v1.5h3v-2h3v1h5v-.5h2v-4.5h2v-6h1v-21h3v21.5h1v2.5h1v7h2v-9h1v-1h1v11h4v.5h3v-.5h4v1h5v-7.5h1v-10h1v4.5h1v-39.5h2v32h1v-32h3v8.5h2v31.5h1v3h1v-14h2v13.5h1v1.5h1v3.5h1v-.5h1v4h8v.5h3v-7.5h1v-5.5h1v-3.5h1v-35h2v30h1v10.5h1v7h1v-8h2v8.5h1v.5h1v2h4v-3h1v1h1v1h1v1h2v-.5h1v-3.5h1v-.5h2v-1h1v3h1v.5h1v-1h3v2.5h1v-.5h1v-2h1v3h3v-1h2v-2.5h3v.5h1v1.5h1v.5h1v-1.5h2v2h1v-4h1v3h1v-1h2v1.5h1v-1.5h1v3h4v-9.5h1v.5h1v-33.5h3v29.5h1v-24.5h2v23.5h1v6.5h1v6h1v2h2v-.5h2v1.5h8v-1.5h1v1h1v-.5h1v-.5h1v-3h2v-.5h2v-.5h1v-5h1v.5h1v6h1v-2.5h1v-.5h1v3h2v-.5h1v3h2v-4.5h1v-9.5h2v-37h3v26h1v-26h3v33h1v4.5h1v-14h2v12h1v10.5h1v2.5h1v3.5h1v-3.5h1v-1h3v.5h1v.5h1v-.5h1v1h1v.5h1v-3h2v3h2v-.5h1v1h1v-2.5h1v-1h1v5h1v.5h1v-.5h1v-5h1v4.5h1v-.5h1v.5h1v-9.5h3v5.5h1v3h1v.5h1v-1.5h1v-3h1v1h1v-1h1v3h1v.5h1v-2h1v-.5h1v2.5h1v.5h1v-2.5h1v2.5h1v-.5h1v.5h3v-4h1v4h3v.5h1v-1.5h1v-3.5h1v-.5h1v3h1v1h1v-.5h1v.5h1v-.5h2v-2.5h1v1h1v-2h1v.5h1v5h1v-.5h1v-4h1v-.5h1v-.5h1v1.5h1v4h1v.5h1v-.5h1v-3.5h1v-.5h2v4h3v-1.5h1v-.5h1v2h1v-3.5h2v2h3v1.5h5v-5h2v5h2v-1h2v.5h1v-4.5h1v1h1v-.5h1v3.5h1v-.5h1v1.5h2v-2h1v-.5h1v.5h1v-3h1v2h2v3h3v-5.5h1v.5h1v1.5h1v-.5h1v5.5h1v-1.5h3v-2h1v.5h1v-.5h2v-1.5h1v3.5h1v.5h1v.5h2v-2.5h1v-.5h1v1.5h1v-1h1v-1.5h1v-1.5h4v3.5h2v1h1v-5h1v.5h1v1h1v3h1v-.5h1v-2h1v3h1v-.5h1v-2.5h1v3h1v1.5h1v-1.5h3v2h1v-5h1v-3.5h1v-6.5h1v-19.5h2v17.5h1v12h1v2.5h1v3.5h4v-2h3v2h3v-4h3v1h1v.5h1v1h3v-4h3v3.5h5v-.5h3v.5h5v-2h1v2h2v.5h3v-1h5v2.5h2v-1.5h5v-1h3v1.5h4v1h2v-2.5h2v1.5h5v-1.5h5v-.5h5v1h1v2h2v-3h2v1h2v-.5h2v-3h1v-2.5h1v-18h3v18h1v4h1v3h1v1h2v-3h1v3h2v-1.5h4v-.5h6v.5h6v-1.5h5v2h4v-2h4v1h8v2h1v-2.5h5v1.5h4v-2h3v3h5v-2h2v-1h1v1.5h3v1.5h2v-2h3v-2h3v1.5h2v.5h1v2h1v-2.5h3v2.5h1v-3h3v2h2v-1h2v-.5h2v-2h5v4.5h1v-1.5h2v-1h1v.5h3v-3h1v2h10v.5h5v2.5h5v-1.5h4v-2.5h3v1.5h2v.5h9v.5h4v-1.5h4v1h1v-2h3v2h3v-1h1v.5h5v1h2v-1h3v1h2v-1h1v-5.5h1v-4h1v-22.5h3v26h1v2h1v3.5h1v1h5v-.5h8v.5h2v-.5h5v.5h4v-.5h4v1.5h1v-.5h3v-.5h3v.5h6v1.5h2v-2h4v.5h4v-3h4v2.5h4v.5h5v1.5h1v-1.5h4v-1h2v.5h5v-.5h4v2.5h2v-2h1v.5h3v1.5h1v-1h1v-.5h1v-2.5h3v1h1v2h1v.5h1v.5h1v-2.5h1v-.5h4v.5h2v.5h1v2h3v-2.5h5v-1.5h5v3h3v-2h1v1.5h1v.5h1v1h3v-2.5h1v-.5h2v1h1v-.5h2.5V485.3Z" fill="#006400" shape-rendering="crispEdges"/>
<line x1="204.5" y1="484.8" x2="1598.0" y2="484.8" stroke="#006400" stroke-width="1.6"/>
<line x1="204.0" y1="493.5" x2="1601.0" y2="493.5" stroke="#000" stroke-width="1.6"/>
<line x1="344.6" y1="493.5" x2="344.6" y2="507.0" stroke="#000" stroke-width="1.4"/>
<text x="344.6" y="543.0" font-size="22" fill="#000" text-anchor="middle">69.6</text>
<line x1="623.9" y1="493.5" x2="623.9" y2="507.0" stroke="#000" stroke-width="1.4"/>
<text x="623.9" y="543.0" font-size="22" fill="#000" text-anchor="middle">69.8</text>
<line x1="903.2" y1="493.5" x2="903.2" y2="507.0" stroke="#000" stroke-width="1.4"/>
<text x="903.2" y="543.0" font-size="22" fill="#000" text-anchor="middle">70</text>
<line x1="1182.2" y1="493.5" x2="1182.2" y2="507.0" stroke="#000" stroke-width="1.4"/>
<text x="1182.2" y="543.0" font-size="22" fill="#000" text-anchor="middle">70.2</text>
<line x1="1462.2" y1="493.5" x2="1462.2" y2="507.0" stroke="#000" stroke-width="1.4"/>
<text x="1462.2" y="543.0" font-size="22" fill="#000" text-anchor="middle">70.4</text>
<text x="196.0" y="528.9" font-size="21" fill="#000" font-weight="bold" textLength="57.0" lengthAdjust="spacingAndGlyphs">chr11</text>
<text x="1565.5" y="528.8" font-size="21" fill="#000" font-weight="bold" textLength="30.0" lengthAdjust="spacingAndGlyphs">Mb</text>
<text x="4.6" y="661.5" font-size="39" fill="#000" font-weight="bold" textLength="26.0" lengthAdjust="spacingAndGlyphs">b</text>
<text x="78.5" y="715.2" font-size="24" fill="#0E6E3C" textLength="185.0" lengthAdjust="spacingAndGlyphs">H3K27ac ChIP-seq</text>
<text x="397.0" y="709.8" font-size="35" fill="#1010D8" font-style="italic" textLength="118.5" lengthAdjust="spacingAndGlyphs">PDGFRA</text>
<rect x="527.1" y="687.5" width="2.6" height="14.5" fill="#1010D8"/>
<rect x="528.0" y="692.9" width="94.0" height="4.6" fill="#1010D8"/>
<rect x="568.6" y="677.1" width="1.3" height="35.4" fill="#1010D8"/>
<rect x="571.6" y="677.1" width="3.4" height="35.4" fill="#1010D8"/>
<rect x="576.1" y="677.1" width="2.8" height="35.4" fill="#1010D8"/>
<rect x="579.0" y="677.1" width="1.3" height="35.4" fill="#1010D8"/>
<rect x="581.5" y="677.1" width="1.3" height="35.4" fill="#1010D8"/>
<rect x="584.8" y="677.1" width="1.3" height="35.4" fill="#1010D8"/>
<rect x="588.6" y="677.1" width="1.8" height="35.4" fill="#1010D8"/>
<rect x="590.7" y="677.1" width="3.6" height="35.4" fill="#1010D8"/>
<rect x="595.7" y="677.1" width="2.5" height="35.4" fill="#1010D8"/>
<rect x="600.1" y="677.1" width="1.3" height="35.4" fill="#1010D8"/>
<rect x="606.9" y="677.1" width="1.3" height="35.4" fill="#1010D8"/>
<rect x="610.4" y="677.1" width="2.5" height="35.4" fill="#1010D8"/>
<rect x="613.9" y="677.1" width="1.1" height="35.4" fill="#1010D8"/>
<rect x="620.5" y="677.1" width="1.3" height="35.4" fill="#1010D8"/>
<rect x="621.6" y="687.0" width="5.2" height="15.5" fill="#1010D8"/>
<rect x="713.0" y="678.2" width="112.3" height="33.6" fill="#0B9447"/>
<text x="832.0" y="704.5" font-size="28.5" fill="#0B9447" textLength="198.0" lengthAdjust="spacingAndGlyphs">super-enhancer</text>
<text x="1080.5" y="709.4" font-size="35" fill="#1010D8" font-style="italic" textLength="44.0" lengthAdjust="spacingAndGlyphs">KIT</text>
<rect x="1133.1" y="677.2" width="1.4" height="35.0" fill="#1010D8"/>
<rect x="1133.5" y="692.9" width="115.0" height="4.4" fill="#1010D8"/>
<rect x="1186.6" y="677.2" width="1.3" height="35.0" fill="#1010D8"/>
<rect x="1189.8" y="677.2" width="1.3" height="35.0" fill="#1010D8"/>
<rect x="1191.4" y="677.2" width="1.3" height="35.0" fill="#1010D8"/>
<rect x="1196.6" y="677.2" width="3.0" height="35.0" fill="#1010D8"/>
<rect x="1201.9" y="677.2" width="1.3" height="35.0" fill="#1010D8"/>
<rect x="1205.5" y="677.2" width="1.3" height="35.0" fill="#1010D8"/>
<rect x="1224.8" y="677.2" width="1.3" height="35.0" fill="#1010D8"/>
<rect x="1228.8" y="677.2" width="3.5" height="35.0" fill="#1010D8"/>
<rect x="1232.8" y="677.2" width="2.1" height="35.0" fill="#1010D8"/>
<rect x="1236.8" y="677.2" width="1.3" height="35.0" fill="#1010D8"/>
<rect x="1238.9" y="677.2" width="1.3" height="35.0" fill="#1010D8"/>
<rect x="1244.0" y="677.2" width="1.7" height="35.0" fill="#1010D8"/>
<rect x="1246.5" y="677.2" width="1.5" height="35.0" fill="#1010D8"/>
<rect x="1247.5" y="687.3" width="4.2" height="14.5" fill="#1010D8"/>
<text x="178.0" y="784.9" font-size="31" fill="#8A8A8A" text-anchor="end" textLength="67.0" lengthAdjust="spacingAndGlyphs">NSM</text>
<text x="174.0" y="857.0" font-size="31" fill="#1a1a1a" font-style="italic" text-anchor="end" textLength="40.0" lengthAdjust="spacingAndGlyphs">KIT</text>
<text x="172.4" y="896.6" font-size="31" fill="#1a1a1a" text-anchor="end" textLength="101.5" lengthAdjust="spacingAndGlyphs">mutant</text>
<text x="180.0" y="942.0" font-size="31" fill="#2B3090" font-style="italic" text-anchor="end" textLength="111.0" lengthAdjust="spacingAndGlyphs">PDGFRA</text>
<text x="178.7" y="981.4" font-size="31" fill="#2B3090" text-anchor="end" textLength="102.0" lengthAdjust="spacingAndGlyphs">mutant</text>
<text x="180.7" y="1035.0" font-size="31" fill="#D9262B" text-anchor="end" textLength="62.7" lengthAdjust="spacingAndGlyphs">SDH</text>
<text x="178.7" y="1074.3" font-size="31" fill="#D9262B" text-anchor="end" textLength="121.0" lengthAdjust="spacingAndGlyphs">deficient</text>
<rect x="190.6" y="741.0" width="2.8" height="55.5" fill="#8A8A8A"/>
<rect x="190.6" y="807.0" width="2.8" height="107.3" fill="#1a1a1a"/>
<rect x="190.6" y="924.3" width="2.8" height="55.7" fill="#2B3090"/>
<rect x="190.6" y="991.4" width="2.8" height="108.6" fill="#D9262B"/>
<path d="M204.5,796.4v-7h1v3h2v-1h1v-.5h1v1.5h1v-2h1v-.5h1v-2h1v.5h1v4h3v-.5h1v.5h1v-5h3v2h1v3.5h2v-8.5h2v5.5h1v-1h1v.5h1v2h1v2.5h1v-2h1v3h1v-3h3v2.5h3v-1h2v-3.5h1v.5h1v2.5h2v-3h1v2.5h1v-3h1v4.5h3v-1h1v.5h1v-1h5v-4h3v4h1v-4h2v4h2v3.5h1v.5h1v-3h3v-.5h2v-2.5h2v4.5h1v-.5h1v-3h1v.5h1v.5h1v-1.5h1v-1.5h1v3.5h1v-1h1v1.5h1v1h1v-1.5h1v-3.5h1v-7h1v2h1v-3.5h1v-38.5h6v24h2v6h1v16h1v2h1v1.5h1v2h1v.5h1v-.5h3v-.5h1v-.5h1v-.5h8v1h1v.5h1v-6h1v-2h1v2.5h1v-7h2v2h1v5h1v5.5h2v-9.5h1v.5h1v.5h3v2h1v.5h1v3.5h1v-6.5h1v.5h1v-1.5h1v5h1v2h1v-1h3v.5h2v-6.5h1v-9.5h3v16h1v-2h1v6h2v2h11v-1h2v1h3v-1.5h1v1h1v-1.5h4v1.5h1v-1.5h2v.5h1v.5h1v.5h1v-2h1v1.5h1v.5h1v-.5h2v-.5h1v-.5h2v1.5h1v-.5h1v.5h1v.5h11v-.5h2v-5h2v4.5h1v-3.5h1v.5h1v.5h2v1.5h2v-2h2v2.5h1v-.5h2v.5h1v1h2v-1.5h1v1.5h1v-1.5h2v.5h1v.5h2v-2h1v1.5h1v-.5h1v-.5h1v-1h1v-.5h1v-.5h1v-1.5h1v.5h1v3h1v-.5h1v.5h1v-.5h2v-.5h1v-.5h1v1.5h1v2h1v-1h3v-.5h1v-1.5h2v-.5h1v2h3v-1.5h2v.5h1v1h3v-.5h1v1.5h1v-3.5h1v2.5h1v.5h1v-.5h1v-.5h2v.5h2v.5h1v-2h1v-1h1v-5.5h2v-27h2v15.5h1v8.5h1v8h1v5h3v-4h1v1.5h1v-1h2v-1h2v.5h1v.5h3v-.5h3v-1.5h1v-4.5h1v-9h2v10.5h1v-1.5h3v-10.5h2v8.5h1v7h1v.5h1v1.5h1v-2h1v.5h1v-4h1v-11.5h1v3.5h1v-37.5h4v29.5h1v3.5h1v-33h5v14h2v16h1v4.5h1v-22.5h1v38h1v1.5h1v-7h1v7h1v-.5h1v-1h1v4h3v-1h1v1h8v-1h1v1h2v-1h1v1h1v-4.5h5v-1.5h2v2h1v-4h1v-2.5h1v-.5h1v2h1v2h1v-.5h1v4h3v-.5h1v.5h1v-6h1v1h1v4.5h1v-.5h1v-4.5h1v.5h1v5h1v-.5h1v-4h1v3.5h1v.5h1v.5h1v-2.5h1v-.5h1v.5h1v.5h1v.5h1v.5h1v-10.5h2v8.5h1v-.5h1v-13.5h2v12h2v2.5h1v3h1v-1h2v1h2v-7h2v3.5h2v-1h1v-2.5h2v8h1v-.5h1v-1h1v.5h1v-.5h1v-6.5h3v6h2v-5.5h1v9.5h8v-3.5h1v3h1v-1h1v1h1v-2.5h1v-1h1v1.5h1v2h1v-2h1v-1h2v1.5h1v-1.5h1v2.5h1v-1h1v-.5h1v2h2v-2.5h1v-1h1v2h2v-4h2v3h1v.5h1v-1h1v.5h1v.5h1v2h1v-1h1v-.5h1v1.5h1v-.5h1v-1.5h1v1h3v1h1v-2.5h1v1h1v1.5h1v-1.5h1v1h2v-2h1v1.5h1v.5h1v-.5h2v1.5h4v-1h1v1h1v-1h1v1h4v-3h1v1h1v-.5h1v-2h1v-.5h1v2.5h1v.5h1v-3h1v1.5h1v-.5h1v-1h1v4.5h1v-1h1v-1.5h1v-.5h1v-4.5h3v3h1v3h1v-2h1v3.5h1v-1h1v-3h1v.5h1v-12.5h3v11.5h1v1.5h1v2h1v-1h1v-.5h1v2.5h2v-2.5h1v-.5h1v-.5h2v3.5h1v-1h1v-2.5h2v3.5h1v-4h1v.5h1v.5h1v-1h4v-.5h1v2.5h3v-.5h5v2h1v-7.5h1v4h1v-5.5h2v6.5h1v-7.5h1v3h2v-.5h1v2h1v-4.5h3v6h1v-3.5h4v.5h1v1h1v-1h1v-3h1v5h1v3h1v-1h3v.5h3v.5h2v1.5h2v1h1v-2h1v-2h1v4h1v-1h1v-.5h1v-.5h1v-1h1v3h1v-2.5h1v-1.5h1v4h1v-2h1v-1h1v1h1v-1.5h1v.5h1v1h1v-.5h1v2.5h1v-2.5h1v1.5h1v-1.5h1v-1.5h1v.5h1v1.5h1v1.5h1v-1h1v1.5h1v-2h1v-1.5h1v-4h1v-11.5h2v8.5h1v3h1v4h1v-1h1v1h1v2.5h1v-3.5h2v2h2v-2h1v4.5h1v-2h1v2h1v-3.5h1v2.5h1v-1.5h1v1h1v-1h1v1h1v-1.5h1v-1.5h1v3h1v2h8v-1h4v1h2v-1h1v1h4v-1h1v-.5h1v-.5h1v1.5h1v-1.5h1v1.5h1v-1h1v-1h1v-.5h1v2.5h1v-2h2v1.5h1v-2h2v1.5h1v-.5h1v-1h1v2h1v-1h1v1.5h1v-1.5h1v.5h1v.5h1v-2h1v2.5h1v-1h1v1h2v-2.5h1v.5h1v1.5h1v-1h1v1.5h2v-1.5h1v-1h1v1.5h1v-1h1v1h2v-1.5h1v2h1v-1.5h1v2h1v-1h1v-.5h1v1.5h1v-1.5h1v-1h1v1.5h1v-3h1v3h1v-1.5h1v-.5h1v-3.5h2v4h1v.5h1v.5h1v1.5h1v-1h1v-1.5h1v1h1v1.5h1v-1h1v-1h1v-.5h1v-.5h1v-1h1v1.5h1v1.5h1v-1h1v.5h1v-2h1v3.5h1v-3.5h1v3.5h1v-.5h1v-3h2v3.5h1v-3h2v-.5h1v1.5h1v-.5h2v1.5h1v-1.5h1v2.5h2v-3h1v-.5h1v2h1v1.5h1v-1h1v-2h1v.5h1v-1.5h1v3.5h1v.5h1v-1h2v-.5h1v.5h2v-3h1v1h1v-.5h1v-.5h1v1.5h1v1.5h1v-2.5h1v2.5h1v-1h1v-.5h1v1.5h1v-1.5h1v.5h3v-.5h1v-.5h1v3h1v-3.5h1v.5h2v1h1v-1.5h1v2.5h2v-.5h1v-.5h1v-.5h1v.5h1v2h1v-2.5h1v-.5h1v2h1v-2.5h1v1.5h1v-1.5h1v.5h1v-1h1v1.5h2v.5h1v-2h1v3h2v-3h1v1h1v2.5h1v.5h1v-2h1v-1.5h1v1h1v1.5h1v1h1v-3h1v2.5h1v-2.5h2v2h1v-2h1v-1h1v2.5h1v-2h1v1h1v2.5h1v-3h1v1.5h1v1.5h1v-3h1v1h1v-1.5h1v3.5h2v-4h1v.5h1v1h2v-.5h1v2h1v-.5h1v1h1v-2h1v2.5h1v-2h1v-.5h4v2.5h1v-2.5h1v1.5h1v-2.5h1v1h1v1.5h1v-1h1v1h1v-2.5h1v1h1v1h1v.5h1v1h1v-.5h2v-2.5h1v3h1v-3h1v.5h1v2.5h2v-2.5h2v.5h1v-2h1v-6.5h2v8h1v-.5h1v-.5h1v1.5h1v-.5h2v1.5h1v-2h2v1h1v-.5h1v-1h1v3.5h1v-1.5h1v-1h1v1h1v-2.5h2v4h1v-3h1v.5h1v.5h1v1h1v-2.5h1v2h1v1.5h1v-1.5h1v-2h1v3.5h4v-2h1v-1h1v1.5h1v-.5h1v1h2v-.5h2v-2h1v-.5h1v-3h1v-6h2v6.5h1v.5h3v1h1v2h1v-4h1v4h1v-.5h1v-8h1v1h1v3.5h1v3h1v.5h1v-3h2v3.5h4v-2h3v-1h1v.5h1v2h1v-.5h1v2h1v.5h1v-.5h1v-1.5h1v1.5h3v-2h1v1h2v-1h1v-.5h1v-3h3v4h2v-1.5h1v.5h1v-1h1v1.5h1v-.5h1v.5h1v-3.5h2v4.5h1v-3h1v1.5h1v-.5h2v.5h2v2.5h1v.5h1v.5h2v-4.5h1v.5h1v.5h1v.5h1v-2h1v2.5h1v1h1v-5h3v2h1v.5h1v1.5h1v-.5h1v1.5h2v-2.5h1v2h2v.5h1v-1.5h1v-1h1v2.5h1v-3.5h2v.5h1v-.5h1v3h2v-2h1v-1.5h1v.5h1v4.5h1v-1h2v.5h2v-2h1v-1h2v.5h1v-1h1v-1h1v.5h1v1h1v-.5h1v-1h1v3h1v.5h1v-1h1v-2.5h2v2.5h2v.5h1v2.5h3v-4.5h2v3h1v.5h1v1.5h1v-.5h1v.5h1v.5h2v-.5h4v.5h2v-1h1v.5h2v-1h1v1.5h1v-1h2v1h1v-.5h1v.5h1v-1.5h2v1.5h1v-.5h1v.5h1v-1h1v1h2v-.5h1v.5h1v-2h1v1h1v-1.5h1v1.5h2v.5h1v-2h1v2.5h1v-2h1v-1h1v3h1v-3h2v-4.5h5v1.5h1v-8.5h1v-11h2v17h1v-.5h1v6h1v3h1v-2h2v.5h1v.5h1v-2.5h1v.5h1v3h1v-2.5h2v1h1v-2h2v3h1v-3h1v3.5h1v-3.5h1v3.5h2v-.5h2v-3h1v1h1v1h1v.5h1v-1.5h1v.5h1v1h1v-2.5h1v2h1v-.5h1v1h1v-.5h1v-2.5h1v3.5h2v.5h1v-2h1v-1h1v1.5h1v1h1v-.5h1v1h1v-2.5h1v1h1v-2.5h1v1h1v-1h1v1h1v1.5h1v.5h1v-1h1v-.5h1v-1h2v2.5h1v1h1v-.5h1v-2.5h1v-.5h1v1h2v2h1v-.5h2v-2.5h1v1.5h1v-1h1v-.5h1v2.5h1v-1.5h1v.5h2v-.5h1v-.5h1v-1h1v2.5h1v-2h2v2h1v1.5h2v-3.5h1v2.5h1v-.5h1v-.5h1v-5.5h3v4h1v2h1v-1.5h1v2h1v-1h1v.5h1v-.5h1v-1.5h1v3.5h1v-3.5h1v.5h1v-1h1v.5h1v3.5h1v-1h1v-2.5h1v3h1v-3h1v.5h2v.5h1v-.5h1v1.5h2v-2.5h1v3h1v1h1v-4h1v3h1v-2.5h2v.5h1v2.5h1v-2.5h1v.5h1v-.5h1v.5h1v1.5h1v-1h1v2h1v-1h2v-2.5h1v3.5h1v-1.5h1v1.5h1v-.5h1v.5h1v-1.5h1v.5h1v-.5h1v-1.5h1v1.5h2v1h1v-3h4v1.5h1v-1h3v1.5h2v-3h1v-4h2v5h1v2h3v-3h3v1h4v1.5h3v-.5h1v-2.5h1v-1h1v-1.5h1v.5h1v5h2v-2.5h1v.5h1v-.5h1v-2h1v-1h1v2.5h1v-2h1v1.5h1v-3.5h2v-.5h1v6.5h3v1.5h5v-4h1v-1h2v-11h2v11.5h1v.5h2v-1h1v3.5h2v-2h1v2h1v-.5h1v.5h1v.5h1v-3.5h2v1h1v2h1v-6.5h2v6h3v-.5h1v1h3v-3.5h3v4h2v1h1v-2h3v-.5h1v-1h1v1.5h3v.5h1v.5h1v-3.5h2v3h2v.5h3v-3.5h1v-.5h1v3h1v.5h1v-3h1v-1h2v3.5h2v1.5h1v-2h1v.5h1v-1.5h1v.5h1v-1h3v-1h1v1h1v1h1v5h2v-1h1v1h1v-1h2v1h2v-1h2v1h2v-1h1v1h11v-1h1v.5h1v-1h1v-3.5h3v2h1.2V796.4Z" fill="#006400" shape-rendering="crispEdges"/>
<line x1="204.5" y1="795.9" x2="1616.7" y2="795.9" stroke="#006400" stroke-width="1.6"/>
<path d="M204.5,857.3v-1.5h1v-.5h3v-.5h5v.5h5v1h4v-1h1v.5h18v-1h2v.5h3v.5h3v-.5h2v1h10v-2.5h5v1h7v1.5h3v-1.5h1v.5h3v1h4v-1.5h4v1h2v-2h1v-4h1v-13.5h1v-2h1v-21.5h2v22.5h2v14h1v2.5h1v4h1v1.5h2v-1.5h2v-.5h3v1h4v-.5h5v1.5h4v-1.5h1v-1h2v.5h1v1h2v-1.5h5v-2.5h3v3.5h5v.5h3v-.5h4v-.5h3v.5h5v1.5h3v-2h4v-.5h4v2.5h1v-1.5h7v-.5h3v1h4v-.5h2v.5h4v1h3v-1h3v-1.5h3v.5h2v1h2v-1h7v-.5h6v1h5v1.5h4v-2.5h1v-2h3v4.5h2v-2h4v-.5h5v.5h2v2h1v-1.5h4v.5h4v-1.5h2v.5h10v1h9v-1h4v-.5h5v.5h3v-3h2v2.5h2v1h5v.5h4v-1.5h4v.5h4v1h3v-1.5h1v1h4v-4.5h2v3.5h1v1h4v-1h5v-5.5h1v-4h2v3h4v2h1v-2h2v5h1v-6.5h2v6h1v.5h1v2h1v-.5h4v1h5v1.5h4v-1.5h4v-1h2v.5h2v2h2v-2h3v1h1v1h4v-1h4v-1.5h2v-.5h1v1h4v-.5h1v-.5h4v1h4v-.5h5v2.5h6v-2h9v.5h1v-.5h1v1h5v-1h2v.5h2v-.5h3v1h1v-1.5h4v1h5v.5h3v-.5h1v.5h4v-1.5h6v-1h1v-7h3v7.5h2v-3.5h1v-5.5h2v7h1v-.5h1v-1h1v-11h2v10.5h1v2h1v1h1v-.5h1v-4h1v-7.5h2v2h2v8.5h1v2.5h1v2h2v-.5h3v-.5h3v2h5v-1.5h4v-.5h8v.5h4v-.5h2v-.5h1v1h4v-1h5v1h4v-.5h1v-7.5h1v.5h1v-31h3v-13h2v27h1v7.5h1v-13.5h2v16h1v5.5h1v1h1v-11h2v11.5h1v4.5h2v2h1v-2h1v3.5h1v-1.5h1v-1.5h1v-3h1v-9h2v10h1v2h1v1h2v-1.5h2v.5h1v1.5h7v-25.5h1v-2h1v3h1v8.5h1v-11.5h3v17h1v-3h1v-.5h1v-29.5h3v22h1v16h1v4.5h1v1h2v-9.5h6v8h1v1h1v1.5h2v-.5h2v1h5v-.5h4v-1h1v-1.5h1v-.5h1v-7.5h1v-3h1v-15.5h1v-22.5h2v19h2v16h1v9h1v4.5h1v-3h1v-3h1v-12h3v.5h1v-.5h3v14h1v5.5h1v-.5h1v-4.5h1v-1h1v-15h2v10h2v5.5h1v4.5h1v.5h1v-.5h1v-1h1v-7h2v6.5h1v2h1v.5h1v.5h1v1.5h8v-1.5h4v1.5h10v-1h11v1h2v-1h10v.5h5v-1h5v.5h4v2h5v-1.5h7v.5h1v-1.5h7v.5h5v-.5h1v1.5h1v-1.5h4v2.5h1v-2.5h1v1.5h3v1h3v-2h5v.5h2v-.5h1v-4h1v1h1v-18h3v16h1v1.5h1v3.5h5v.5h3v-1h1v-6h1v-3.5h1v-30h3v4h1v22h1v5.5h1v4.5h1v4h1v-2h1v-8h2v-12.5h1v-29.5h2v35h1v1h1v6h1v7h1v2.5h1v1h1v-.5h5v-.5h5v1.5h2v-1.5h1v1.5h5v-1.5h4v1h11v-.5h5v.5h4v-.5h5v.5h3v-.5h1v1h5v-.5h2v-.5h4v2h1v-1.5h2v-.5h5v.5h5v-.5h1v-1h4v1h8v.5h1v.5h1v-1.5h4v2.5h4v-1h4v-1.5h8v1h2v-.5h3v-.5h2v-2h1v3h2v-1h5v.5h7v.5h1v-.5h5v2h2v-2h4v.5h1v-2.5h1v-8h1v-1.5h1v-40.5h7v22.5h1v-13h2v18.5h1v7h1v1h1v-22.5h3v13h1v2.5h1v15.5h1v2.5h3v6h1v-5.5h1v-2.5h1v-16.5h3v17.5h1v1.5h1v-.5h1v-9h1v4.5h1v-.5h1v4.5h2v-12.5h3v5h1v7h1v-3h1v-3h2v2h1v-1h1v7h1v-10h1v-2h2v2.5h2v-3h1v9h1v-1h2v-10h1v12h1v-.5h1v1h2v-1.5h1v-.5h1v-3h1v-.5h1v4.5h1v.5h1v-4h1v6.5h2v-13.5h3v12h1v-2h1v-.5h1v1h1v-4.5h1v7h2v-3h2v.5h1v3.5h1v-.5h1v1h1v-.5h1v-1h1v-1h1v.5h2v-.5h1v2h1v-.5h1v-5.5h1v-.5h1v8h3v1h1v.5h1v-2h1v-.5h1v-3h1v-1h1v1h1v1h1v-1.5h1v5.5h2v-6.5h2v-.5h2v2h1v-.5h1v2.5h1v-1h1v1.5h1v-.5h1v.5h1v-4h1v-1h1v-1h1v-1.5h1v1h1v9.5h3v-7h1v5h1v3.5h4v-2.5h1v1h5v.5h1v2h4v-2.5h5v.5h1v1h1v-1h2v.5h4v1.5h3v-3h4v.5h1v2.5h4v-2.5h3v-.5h1v-1h1v-8h1v-6h1v-15h1v-21h3v34.5h1v11.5h1v2h1v5h2v-2.5h3v3.5h3v-1.5h2v-.5h7v1h5v-1.5h1v2.5h3v-2.5h4v1.5h5v-.5h1v1.5h1v-2h2v1h1v-.5h5v.5h3v1h3v-2h2v.5h7v-1h6v-.5h5v-2h1v-4h2v5h1v1h1v.5h1v.5h5v.5h2v-.5h4v2h1v-2.5h3v1.5h9v1h2v-2.5h3v.5h4v.5h3v-1h4v.5h4v-2.5h2v3h5v-1h2v.5h6v1h4v-.5h7v-.5h1v-.5h2v1.5h3v-1.5h5v1h6v-1h4v.5h7v.5h1v1.5h2v-2h4v.5h1v-1h2v1h8v-1.5h1v.5h10v.5h1v2h5v-2h2v1h1v-2.5h1v-5h1v-.5h1v-16.5h2v11.5h1v7h1v3h1v1.5h1v.5h3v.5h6v.5h2v-1h9v1h1v-.5h8v-.5h5v.5h1v-3.5h3v2.5h1v1h4v-.5h1v-.5h3v.5h4v.5h9v-.5h5v.5h6v-.5h6.2V857.3Z" fill="#006400" shape-rendering="crispEdges"/>
<line x1="204.5" y1="856.8" x2="1616.7" y2="856.8" stroke="#006400" stroke-width="1.6"/>
<path d="M204.5,918.5v-4h2v1h1v-1h1v3.5h1v-2.5h1v-.5h1v.5h1v2.5h1v-4h1v4h1v-3h1v-1h2v.5h1v3.5h1v-3h2v1.5h3v1.5h2v-3h1v3h2v-3h1v.5h1v1.5h1v-1h4v.5h3v-.5h7v-.5h2v-2h1v1.5h5v1h10v1h1v-3.5h4v2h2v3h4v-2.5h2v1.5h4v-2h4v1.5h5v-4.5h1v-7h1v-1.5h1v-23.5h2v23.5h1v1.5h1v8h1v3h2v-1.5h5v1h2v.5h5v.5h7v-.5h3v-1.5h4v1.5h2v.5h8v-5h2v3.5h1v-.5h2v3.5h4v-3h1v1h2v-.5h4v.5h3v-1h8v-.5h4v2h3v-.5h8v-1h4v1.5h3v-1.5h5v1h1v2h2v-1.5h1v-1.5h9v1h2v.5h5v1.5h6v-3h2v.5h4v-1h3v1h3v-1h1v1h5v1h2v-1.5h2v1.5h3v-2h4v.5h2v2h3v-1h5v-.5h3v-2.5h1v3h5v.5h10v-1.5h3v1.5h1v-3h1v-3.5h1v-12h3v12.5h1v3h1v1h2v.5h5v-2.5h3v5.5h1v-2.5h8v1h1v-.5h2v-.5h4v-.5h2v1h4v.5h3v-2.5h1v-.5h2v-2.5h1v-5h2v7h2v1.5h2v-4h1v2.5h1v-8h2v3.5h1v.5h1v7h5v-.5h5v1h4v-1h6v-.5h3v1h1v-1.5h1v1h2v.5h1v.5h1v-2h1v1.5h1v-1.5h1v2h1v-2h1v1h1v1.5h1v-2.5h1v3h1v-.5h1v-1.5h1v-.5h1v1h2v.5h4v-1.5h1v-.5h1v1.5h1v-.5h1v-1h1v1h2v2h1v-3h1v1h1v-.5h1v.5h2v2h2v-2.5h1v2.5h1v-.5h2v.5h1v-.5h1v.5h1v-2.5h1v1h1v-1.5h1v3h1v-1.5h1v-.5h1v1h1v-.5h1v-1.5h1v1.5h1v-1h1v1.5h1v-1.5h1v2h1v-3h1v1h1v2h2v-2.5h1v2h1v-2h1v1.5h2v.5h7v1.5h1v-3.5h3v1h4v-.5h4v-5h3v5h1v.5h1v-5.5h3v4.5h1v.5h1v-1h1v-12h2v11.5h1v1.5h1v-3h1v-11.5h1v-6h1v-25h2v28.5h2v13h1v1.5h1v-.5h1v.5h1v.5h1v.5h1v1h1v-.5h2v-1h1v2.5h3v.5h5v-.5h1v-2.5h5v2h1v1h6v-1h1v1h3v-1.5h1v.5h5v1h5v-.5h3v-7h1v-7h1v-18.5h2v-18.5h3v23.5h2v18.5h1v3h1v-3h1v1h1v-22.5h2v19h1v2h1v5.5h1v3h1v-1.5h1v.5h1v1h1v-1.5h1v-4h1v-6.5h2v9.5h2v.5h1v-.5h1v1h1v1h1v.5h1v2.5h4v1h3v-2h1v-6.5h1v1h1v-12h1v-5.5h3v-5h3v-18.5h3v30h1v9.5h1v6.5h3v-.5h1v-9h2v7h1v2.5h1v-1h1v3.5h3v-2h2v-.5h5v-4h1v-.5h1v.5h3v4h1v-2h1v-2.5h1v-8h4v-24h2v24h1v6.5h1v3h1v-1.5h1v-.5h1v1h1v.5h1v-11h3v8.5h1v2h2v3h4v-4h1v-11h2v11.5h1v.5h2v-8.5h3v5h1v-7h2v8.5h1v5h1v.5h1v1.5h1v-.5h1v-3h3v3h3v-1h5v-.5h1v.5h4v.5h4v.5h5v-.5h1v.5h2v-.5h4v1h5v-.5h9v-.5h1v1h4v-2h3v1.5h3v.5h5v-2.5h1v4h1v-2h4v-1.5h2v1.5h5v-1h5v1h11v-1h1v1.5h6v-1.5h5v3h1v-1.5h1v-1.5h1v-4.5h1v-9.5h3v11h1v3.5h1v.5h1v1h1v-2h1v2h3v-4h3v-1.5h1v-3h1v-13.5h3v14h2v6h1v1h2v-1h1v-.5h1v-6.5h1v-5h1v-17.5h2v15h1v10h1v3.5h1v4h3v-2h7v-2h1v1.5h6v1h1v-.5h1v1h2v-.5h5v-1h2v-.5h5v1h2v-1h3v1h3v-.5h2v-.5h2v1.5h3v-.5h3v-.5h2v1.5h4v-2h5v.5h5v-.5h1v1.5h5v-.5h3v-.5h2v-.5h5v2h5v-1h7v-1.5h3v2h6v-1.5h2v1.5h4v-1h5v1h3v-1.5h5v3h5v-2h10v-.5h4v.5h4v-1.5h2v1h1v-4.5h1v-11h1v-36h7v28h1v-28h2v18h1v6.5h1v-22h3v14h3v23.5h1v-21.5h1v2h1v-3.5h1v32h1v-.5h1v-14.5h2v8.5h1v-1.5h1v-21h2v12h3v13.5h1v-6.5h3v9h2v-1h1v.5h1v-3.5h1v1h1v6.5h1v-5.5h1v.5h2v-3.5h2v2.5h1v4h1v-.5h1v-7h1v1h2v8h2v-1.5h1v-.5h1v1h2v-6h1v-2h1v7.5h4v.5h1v-2.5h1v.5h1v-2h1v.5h1v2.5h3v-2h1v1h1v-1h1v-1.5h2v1h1v3.5h1v-.5h1v-2h3v1.5h1v.5h1v-3h1v1h1v3h1v-2.5h2v1.5h1v-.5h1v1.5h1v-6h1v3.5h1v-.5h1v.5h1v1h1v-.5h1v1.5h1v-4.5h2v6h1v-2h1v-5h2v-1h1v6.5h1v-.5h1v.5h1v-4.5h1v1h1v-.5h1v1.5h1v-1.5h1v2.5h1v-6h1v-7h2v9.5h1v2h1v-5h1v10.5h2v1.5h3v-3.5h2v1h2v-.5h3v1h9v.5h5v-1.5h4v1h2v-1h2v1.5h2v-1.5h1v1h2v-1h6v1h4v-1h2v-3h1v-5.5h1v-18.5h2v8h2v13h1v5.5h1v2h1v-.5h5v-3.5h2v2h5v1.5h3v-1h4v-.5h6v-2h3v2.5h4v1h1v-.5h3v1h4v-2h4v1.5h4v-4h2v3.5h3v1h2v-.5h2v.5h4v-1h1v-2.5h1v3.5h2v-1h9v-.5h4v1h4v.5h4v-2h9v2.5h4v-.5h5v1.5h5v-2h4v-2h4v1h4v1h1v.5h3v-.5h6v2h4v-2h3v-.5h3v1h5v-1.5h3v.5h5v1.5h5v-1.5h8v.5h4v.5h3v-1.5h1v-.5h1v-7h2v6h1v1.5h1v1.5h1v-1.5h1v1h3v-.5h1v.5h5v-1h1v-2.5h2v3.5h1v-.5h3v.5h4v-.5h3v-1h2v1h3v.5h3v-1h1v-7.5h1v-1.5h1v-20h2v12h1v8.5h1v5h2v3h2v-1.5h1v-1h2v2h1v2.5h3v-4h5v2.5h3v.5h1v.5h3v-1h3v3h4v-2h3v-1h2v.5h4v-.5h11v1.5h2v-1.5h3v1h2v.5h3v-.5h3v-.5h7v2.5h4v-3h3v1h2.2V918.5Z" fill="#006400" shape-rendering="crispEdges"/>
<line x1="204.5" y1="918.0" x2="1616.7" y2="918.0" stroke="#006400" stroke-width="1.6"/>
<path d="M204.5,979.6v-7.5h1v.5h1v.5h1v1h1v1.5h1v-.5h1v-5.5h3v4.5h1v2.5h2v-.5h1v.5h2v-1h1v-2h1v-10h3v4h2v4.5h1v4.5h1v-.5h2v-3.5h1v2h1v.5h1v-4h1v8.5h2v-2h4v2h3v-3h6v3h5v-2.5h2v-.5h1v-.5h3v1h1v1h4v-3h2v2.5h2v-.5h2v.5h2v-.5h3v1h2v-2h4v2h2v-3h1v-1h1v-10.5h5v4h1v-42h6v35h1v5.5h1v5.5h1v5.5h4v-.5h4v.5h7v.5h4v-2.5h2v1h1v.5h1v-1h2v.5h2v-2.5h3v2.5h3v.5h2v.5h4v1.5h1v-.5h3v-2h4v1h1v-.5h1v-2h2v.5h1v1.5h1v.5h3v-.5h1v-2h2v3.5h3v-2h1v3.5h1v-3.5h2v1.5h5v.5h9v-2h4v2h1v-.5h3v.5h5v1.5h1v-3h5v.5h3v-2h4v-1h4v4h4v-2h2v.5h5v1.5h10v1.5h3v-3.5h1v.5h9v1h4v-4h1v4h3v-.5h5v1h3v-1.5h1v1.5h3v-.5h3v-1h5v.5h5v1h1v-1.5h1v-.5h1v-7.5h2v7h1v.5h1v2h1v-1.5h2v-1h5v2.5h2v-2h3v1.5h1v.5h6v-3h1v1h1v-11h5v10h1v-1h1v4h7v-51.5h1v3.5h1v1h1v-.5h1v-.5h1v-2.5h1v-1.5h1v1.5h1v-2h1v27.5h1v9.5h1v-35.5h1v9.5h1v4.5h1v-6h1v18h1v4h1v10.5h1v-.5h1v1h1v-4.5h1v1h1v13h4v.5h2v-2h1v1.5h3v-1.5h5v.5h2v-2.5h1v-.5h1v.5h1v1h2v-.5h1v-9h1v-1h1v-.5h1v1h1v1.5h1v-2h3v10h5v-10h1v.5h1v11h1v.5h1v-2h2v-8h2v6.5h1v-9h1v.5h1v9h1v-.5h1v-3.5h1v.5h1v-21.5h2v18h1v4h1v-1.5h1v.5h1v-12.5h2v12h1v2h1v5h1v-7.5h1v.5h1v4.5h2v-7h2v2h1v.5h1v-1.5h1v9h1v.5h1v-3h3v-7h1v-1.5h1v1h1v2.5h1v-1.5h1v4.5h1v.5h1v-6h1v7.5h2v3h1v-.5h4v-.5h5v1.5h2v-1h2v1.5h2v-.5h1v-4.5h1v-3h1v-21.5h3v18.5h1v5.5h1v5h5v-1.5h1v-4.5h2v3.5h1v1h1v.5h2v-.5h1v-6.5h2v5.5h1v1.5h2v-.5h1v.5h3v1h2v-1.5h3v1h1v1h5v1.5h5v-2.5h1v-1h2v1h1v.5h5v-.5h3v1h1v-.5h2v-1.5h5v2h3v-1h4v-2h1v-6.5h1v1h1v-25h2v-16.5h3v11.5h2v24h1v7h1v7h1v1h1v-.5h5v-1.5h3v1h4v1h2v-2h3v1.5h5v-.5h5v.5h1v-19h1v8.5h1v-.5h1v2h1v-4.5h2v-15h2v9.5h1v-29.5h3v37.5h1v1h1v9h1v-1h2v-3h1v-5.5h1v-16h2v20.5h2v2.5h1v5h5v-2h4v-2h1v-4h1v3.5h1v1h1v-.5h1v.5h2v-3h1v2.5h1v-4.5h1v-5h1v-18.5h2v17.5h1v4h1v7.5h1v.5h1v-4.5h1v3.5h1v1h1v-2h2v1.5h1v-.5h1v-3h2v.5h1v3.5h2v-1h1v-2.5h1v-1.5h1v-24.5h2v14h1v6.5h1v7h1v-.5h1v.5h1v-.5h1v-2.5h1v-6.5h2v7.5h1v1h2v4h1v1.5h3v-2h1v-.5h3v.5h1v1h5v-1.5h7v1h5v-1h4v1.5h2v-2h5v-.5h4v.5h1v1h2v-1.5h1v1.5h4v1h1v-1h4v-.5h3v.5h2v-1h7v1h2v-.5h4v2.5h4v-1h3v-1h6v1h4v1h2v-2h2v.5h3v-1.5h3v.5h1v-3.5h2v4h2v1h3v-.5h1v-2h1v-8.5h3v8.5h1v1.5h1v1h1v1h5v-2.5h3v-1h1v-5.5h1v-14h3v16.5h1v3h1v1h2v-1h2v-1.5h1v-7h2v5h1v3.5h3v.5h3v1.5h3v-1.5h6v.5h5v-4h5v4.5h5v.5h4v-2h4v1.5h2v1h3v-1h1v2h7v-2h2v.5h3v.5h1v-.5h4v-1.5h10v1.5h1v-1h5v-1h3v.5h4v1.5h1v-1h5v.5h5v-2.5h1v-1.5h2v4.5h6v-1.5h4v.5h4v2.5h5v-1.5h4v-.5h3v-1h3v1.5h10v1.5h1v-3h2v-.5h1v.5h5v3h3v-2h4v-4.5h1v-5.5h1v-3.5h1v-21h2v27.5h1v-6h2v9.5h1v1h1v2h1v.5h2v-1h8v.5h1v-.5h3v-.5h1v-5.5h2v5h1v-5h3v6.5h1v1h1v1h1v-1.5h4v-1h5v1.5h4v-2h1v2.5h1v-1h2v-1.5h1v-6h1v-9h2v9h1v4h1v2h1v1.5h2v-1.5h3v-2h2v3.5h5v2h8v-2h5v1h4v-.5h3v-2h4v2h5v-1h1v-3h4v3h5v1h4v.5h4v-1h1v-1h2v1.5h3v-1h3v-.5h5v-2h1v3.5h4v-2h3v1h3v-2h5v2h5v-.5h3v2h4v1h5v-2h2v.5h5v-1.5h4v.5h1v-3.5h1v-10h1v-7.5h1v-29.5h2v7h2v34h1v3h1v5h1v2h1v-.5h3v.5h14v-.5h2v1h2v-1.5h4v2h4v-2h1v1h2v-.5h6v1h5v-1h5v1.5h5v-2.5h5v.5h5v3h5v-3h3v.5h4v1h3v-2h4v1.5h3v-1h3v1.5h5v-1h2v.5h3v2h2v-2.5h2v1h3v.5h2v-1.5h5v-.5h3v1.5h4v-1.5h6v3h9v-1.5h2v1.5h3v-3h1v.5h1v1h5v-1.5h5v1h2v.5h4v-.5h4v-1.5h5v1.5h2v-1.5h3v3.5h4v-2h4v2h4v-2h1v2h4v-1.5h4v-1.5h4v-3h3v2.5h1v.5h5v.5h8v-5h1v-3h1v-11h2v10h1v6h1v2h1v1h4v1h2v-.5h6v-.5h4v-3h1v4h5v1.5h3v-1.5h4v-2h2v2h3v-2h3v2h1v-1h3v2.5h4v-3h5v.5h5v1h2v-1.5h4v1.5h3v.5h2v-1h3v-1.5h4v.5h4v1h1.2V979.6Z" fill="#006400" shape-rendering="crispEdges"/>
<line x1="204.5" y1="979.1" x2="1616.7" y2="979.1" stroke="#006400" stroke-width="1.6"/>
<path d="M204.5,1040.6v-1h1v-.5h1v-1.5h1v2.5h1v-3h1v2.5h1v-1.5h1v2h1v-3h1v3h1v-1.5h1v-1.5h1v.5h1v-.5h1v1h1v2h1v-2.5h1v2.5h1v-1h1v1h2v-1h1v1h1v-1h1v-1h1v.5h1v1.5h1v-2.5h1v3h4v-1.5h4v-1h1v.5h2v-.5h4v1.5h7v-1.5h9v.5h5v-.5h4v.5h9v-1h8v1h2v-3h1v-3h1v-4.5h1v-28h2v11.5h2v18.5h1v3.5h1v4.5h1v1h1v1.5h4v-6h1v4.5h3v-1h5v1h3v1.5h5v-2h3v-1h2v.5h8v.5h3v2h1v-2h5v-1h7v-3h3v3h5v.5h7v.5h1v.5h5v.5h5v-1.5h6v2.5h4v-2h1v-.5h1v.5h1v-1h1v1h5v-.5h3v.5h4v.5h7v-.5h5v-.5h12v-.5h7v1h4v-.5h5v.5h5v1h2v-1.5h2v.5h2v-2.5h2v2.5h10v-.5h5v1h1v-.5h1v.5h5v-.5h5v-.5h5v1h5v.5h4v-1h2v2h3v-2.5h2v-2h2v2h2v.5h4v.5h5v1.5h3v-3h5v1.5h1v-.5h4v-2h1v-3h1v-5h2v8h1v1h1v.5h2v.5h12v-.5h1v1h2v-1.5h3v.5h5v1h3v.5h2v-2h2v3h3v-2h3v-1h3v1h3v.5h5v-.5h4v.5h4v-.5h3v-.5h1v-1h1v-1.5h1v-10.5h2v9.5h1v1h1v1.5h1v.5h4v1.5h2v-1h2v1.5h1v1h4v-.5h1v-2h2v-2.5h3v3h1v-1h5v1h7v.5h2v-.5h7v-1.5h1v-3.5h1v-8.5h3v9h1v3.5h4v-1.5h1v-5.5h1v-5.5h1v-17.5h2v19.5h1v1h1v6.5h1v-1h1v-10h1v-11h2v21h1v2h1v2h6v1.5h4v-1.5h5v1.5h1v-1h4v.5h5v.5h6v-2.5h4v2.5h9v.5h3v-3.5h1v-8.5h1v-8.5h1v-20.5h2v18h1v-28.5h3v33.5h1v-1h2v5.5h1v9.5h1v-13h2v9.5h1v2.5h1v3.5h1v.5h7v-.5h3v.5h4v.5h1v-1.5h3v-5h1v-5.5h1v5.5h1v.5h1v-9.5h1v-.5h1v-12h1v-2h1v-3h1v-1h1v-7.5h2v27.5h1v-10.5h1v1h1v-13.5h3v16h1v15h1v4.5h1v3h1v-2.5h1v-3h1v-4.5h1v-20h2v20h1v-1h1v6h1v5h3v-2h2v-.5h2v.5h2v-2h1v-1.5h1v-.5h1v.5h1v-2.5h1v-.5h1v6h2v-5h1v-3h1v-8h1v-34h2v26h1v11.5h2v7h1v1h1v2h2v-1.5h1v-3h1v-1h1v8h1v-7h2v7h1v-4.5h1v-.5h1v-.5h1v.5h1v-2h1v4.5h1v.5h1v-.5h1v-5.5h3v4.5h1v-4.5h1v-8h1v-20h2v20h1v10h1v4h1v1.5h3v.5h3v-3.5h3v3.5h1v.5h1v-1h1v.5h12v1h2v-1.5h3v2.5h1v-2h1v-.5h1v-6h2v4h1v2h7v1h5v-1h2v2h4v-1h2v-.5h4v.5h4v.5h5v-1.5h3v.5h2v1h2v.5h3v-2h3v-.5h1v1h1v2h2v-1h1v1h1v-1h2v1h1v-1.5h1v1.5h1v-1.5h1v-1h1v-3h3v3.5h1v.5h2v-.5h1v2h1v-.5h1v-2h1v.5h1v-2.5h2v2.5h1v1h1v.5h1v.5h2v-3h1v2h1v1h1v-.5h1v.5h1v-1h1v-2h1v1h1v2h1v-.5h1v-2.5h1v-8.5h1v-7.5h1v-27.5h3v26.5h1v13.5h1v2.5h1v-5h1v-10.5h2v-5h2v-4h2v11.5h1v6.5h1v6h1v2.5h12v1h5v-1h5v2.5h3v-2.5h4v1h4v-1.5h6v-4h2v4h1v1.5h1v-.5h2v-5h3v4h2v1h1v-2h5v1.5h4v.5h1v.5h2v-1h5v1.5h5v-2h2v.5h3v-3.5h3v3.5h1v.5h3v-.5h1v1.5h4v-1h4v-1h5v3h4v-2.5h4v-.5h3v1h4v-1h4v.5h5v1h5v-1.5h6v1h3v2h5v-1.5h9v-36.5h1v-11.5h1v1h1v-4h1v1h1v1.5h1v3h1v26.5h1v-33.5h4v2.5h1v12.5h1v-12h1v-3h3v16.5h1v13.5h1v2h1v-32h1v2.5h1v49h1v-14.5h1v-2h1v-19.5h2v11.5h1v-6h1v-2h2v-2h1v17.5h1v-12.5h1v-.5h1v12.5h1v-8h1v-1h1v13h1v9h1v1h1v.5h1v.5h2v.5h1v-.5h2v2h1v-.5h1v-1.5h1v-2.5h2v3.5h2v-4.5h1v-1.5h1v.5h1v2.5h1v2.5h1v-2h2v1h2v.5h1v2h1v-7h1v-2h2v1.5h1v-.5h1v5h1v-1.5h2v3h1v-9h1v10.5h2v-10.5h1v5h1v-1h2v6.5h2v-3.5h1v-.5h1v4h4v-7h2v7h2v-9.5h1v6h1v1h1v2.5h2v-1.5h1v-3h1v.5h1v-1.5h1v-2h1v-1.5h1v-1h1v8.5h1v-.5h1v1h1v-1h1v.5h1v-5h2v3.5h1v.5h1v-7h1v-1h1v-.5h1v2h1v7h3v-8h1v1h1v9h1v-8.5h1v.5h1v-4h2v1h2v4.5h1v7.5h1v.5h5v-1h2v1h3v-1.5h2v.5h2v1h3v-.5h1v.5h2v-.5h3v.5h5v.5h1v-2h2v1.5h1v-1.5h8v.5h4v-.5h5v1h5v-.5h5v.5h6v-1h2v.5h5v.5h1v.5h1v-1h2v-3h2v3.5h5v.5h1v-.5h3v.5h3v-1.5h4v1h6v.5h7v-1h3v1.5h2v-1h1v2h1v-2h4v1h1v-.5h4v-.5h1v-.5h2v-4.5h3v5h5v.5h2v-.5h1v-2.5h1v-10h3v10h1v1.5h3v1h3v-.5h3v-.5h6v1.5h4v-1.5h7v1h8v.5h4v-1h7v2.5h4v-1.5h2v.5h3v-.5h5v-4h1v5.5h2v-1h1v-1h1v-.5h1v-5.5h2v5.5h3v.5h3v.5h5v-.5h1v.5h3v-1h2v.5h5v.5h8v-1.5h3v1.5h3v-.5h4v-3.5h1v-4h1v-6.5h1v-20.5h2v25.5h1v-3.5h1v7h1v5.5h2v-4h1v-7h3v8.5h1v2h1v-.5h1v-3.5h1v-11.5h1v-.5h1v-35h2v16.5h1v19h1v2.5h1v8.5h1v.5h1v-1h2v1.5h1v-.5h1v3h1v.5h7v1.5h1v-1.5h5v.5h1v-2.5h1v-1h1v-9.5h2v8h1v2.5h1v3.5h1v-2.5h1v-1.5h1v-11h3v12h1v-.5h1v-7h2v5.5h1v3h1v1.5h1v.5h1v.5h5v-.5h4v-1h3v-.5h6v1.5h5v-.5h7v-1h3v-1.5h1v-8.5h2v8.5h1v2h.2V1040.6Z" fill="#006400" shape-rendering="crispEdges"/>
<line x1="204.5" y1="1040.1" x2="1616.7" y2="1040.1" stroke="#006400" stroke-width="1.6"/>
<path d="M204.5,1102v-1h4v-.5h9v-1h2v-.5h3v1.5h4v-.5h4v-1h3v2h1v-1h9v-1h5v.5h5v.5h13v.5h9v-1.5h2v3h2v-1.5h3v.5h5v-1.5h3v.5h1v-2.5h1v-8.5h1v-7h1v-18h2v13h2v14.5h1v4h1v3.5h3v.5h2v-.5h2v1.5h2v1.5h3v-2.5h5v-3h2v5.5h3v-3h4v3h1v-1.5h2v-1h4v.5h4v2h5v-2h9v-.5h2v.5h4v2h7v-2h5v1h1v-1.5h2v1.5h3v-1h2v-.5h9v2.5h4v-2.5h8v1h5v-.5h2v-.5h5v.5h1v-1h1v1.5h3v-.5h3v-.5h1v-.5h1v-2h5v3.5h3v-1h5v1h6v-.5h2v-.5h1v-.5h5v.5h3v-.5h1v1.5h4v-1.5h3v2h6v-2h2v.5h2v1h2v-1h4v1h1v1.5h1v-2.5h1v1h3v-1.5h1v.5h5v1.5h4v-1.5h1v1h3v-1.5h3v1h3v.5h3v-1.5h4v.5h2v2.5h5v-2h1v.5h5v-1.5h4v-4h3v-3.5h1v.5h2v-.5h1v-.5h1v.5h1v-8h2v9.5h1v-1h1v7.5h1v1.5h4v-2h5v1.5h8v-.5h1v-.5h1v-.5h10v2h2v-1h3v.5h4v-.5h3v2h2v-3h5v1.5h5v-1h4v.5h3v.5h1v-.5h5v.5h6v.5h3v-2h5v1.5h5v1.5h1v-2.5h5v.5h4v-.5h1v2.5h4v-2h5v-1h3v1h1v-.5h1v-6.5h3v6h1v.5h5v-1.5h1v-2.5h1v-10h2v9h1v4h2v-2.5h1v-7.5h1v-15h2v19.5h1v1h1v4.5h1v2h3v-.5h3v1h5v-1.5h2v.5h2v-.5h3v1h3v-1.5h6v1.5h4v-1h1v2.5h3v-3h3v3h1v-1.5h5v-1.5h2v-1.5h1v-2.5h1v-6.5h1v-21.5h2v10.5h1v-29h3v36.5h1v-3h2v12h1v3.5h1v2.5h1v.5h1v-.5h2v1h5v-.5h4v-1h1v-2h3v3h5v-1.5h2v1h3v-4h1v-9.5h2v7.5h2v-2h1v-6h1v-17.5h2v19.5h2v-14.5h3v19.5h1v2.5h1v5h1v.5h2v-2.5h1v-.5h1v-8h2v5h1v2.5h1v2h3v1h1v-.5h1v.5h1v.5h4v-3h2v-.5h1v1.5h2v-1.5h2v1.5h1v-1h1v-7h1v1h1v-17h2v16.5h1v2.5h1v1.5h1v.5h1v4.5h2v-1h1v.5h1v-.5h1v-3h3v-.5h2v4.5h2v-1.5h2v-7h3v7h1v.5h2v.5h1v-1h1v-5.5h1v.5h1v-15h2v11h1v4.5h1v1.5h1v3.5h1v1h3v-1h5v.5h1v-1.5h4v2h1v-.5h1v2h8v-3h1v1h5v-1h2v2h1v-1h5v-1h2v.5h5v2.5h1v-3h4v1h3v-.5h4v.5h9v-.5h12v1.5h4v-1h4v2h4v-2h4v1h2v1h2v-1.5h1v-.5h4v.5h5v-1.5h1v2h3v-.5h1v-.5h4v.5h2v-1.5h8v.5h4v.5h1v-1.5h1v-3h1v-.5h1v-17h3v15h1v1.5h1v5h1v.5h1v-.5h3v.5h5v-1h1v1.5h3v-.5h3v.5h13v-1h4v1h5v-1h2v-.5h5v1.5h5v-.5h1v-.5h4v1.5h2v-1.5h1v-.5h5v1h3v-.5h4v.5h5v1h1v-.5h6v-1h7v.5h4v.5h2v-1.5h5v1h10v2h1v-2.5h2v-2.5h3v3h2v-.5h6v.5h3v-1h4v.5h5v-.5h5v1h3v.5h3v-.5h3v.5h1v-22.5h1v1.5h1v-25h1v.5h1v-4.5h1v-.5h1v5h1v31h1v-7.5h1v-.5h1v-19h3v24.5h1v-17.5h3v19.5h1v1h1v-3h1v5h1v.5h1v2h1v7h1v-1h1v-10h6v11.5h1v.5h1v-.5h1v-.5h1v-1.5h1v-.5h1v1.5h2v1.5h1v.5h1v-.5h2v-.5h1v-.5h1v1h1v-3h1v-.5h1v3.5h1v-1h1v-1.5h1v2.5h3v1h1v-.5h1v1h2v-1.5h2v-.5h2v-2.5h2v-.5h1v4h2v-1h1v.5h1v-1.5h1v-1h1v.5h1v.5h2v.5h1v.5h2v.5h1v-.5h1v-.5h1v1h2v-2.5h1v-.5h1v3.5h7v-3h1v2.5h1v-2.5h2v.5h2v-.5h1v2.5h1v-.5h2v1h2v-1h2v1.5h1v-.5h1v.5h1v-2h1v-.5h1v.5h1v1h1v-1.5h1v.5h1v-.5h2v3h1v-1.5h3v.5h1v-2h1v2h1v-.5h2v-1.5h1v-.5h1v-.5h1v3.5h1v-1h1v-.5h1v.5h2v1h2v-.5h2v-1.5h1v-.5h1v2h2v.5h4v-1h2v3h5v-3h3v1h4v.5h3v-.5h6v-1h4v1.5h3v-.5h5v1h1v1h5v-2.5h1v1h5v-.5h2v-.5h8v-.5h2v3h1v-2.5h3v.5h5v.5h5v-1.5h4v3h1v-1.5h8v-1.5h4v2h3v-2h2v-.5h3v1h5v-.5h4v.5h3v1h5v-.5h5v-2.5h1v2h6v.5h3v.5h4v-1h2v-.5h3v2h1v-2h1v1h4v2h2v-1.5h5v1.5h3v-2h3v.5h3v-1h4v1h1v-1.5h5v1.5h6v-1h2v2.5h6v-2.5h4v.5h5v-1h1v-2.5h4v5.5h2v-3h4v.5h4v1h5v-.5h3v.5h5v.5h1v-.5h2v-1.5h1v1h5v1h5v-2h1v1.5h1v-1h2v-5.5h2v5.5h5v.5h1v-2h3v2.5h2v-.5h1v-3h1v-6h1v-7h1v-17h2v12h1v10h1v6h1v2h1v5h4v-2.5h3v.5h2v-1h3v1.5h8v-1.5h2v-1h2v1h1v1h7v1h5v-.5h7v.5h3v-1.5h3v.5h5v.5h4v-1h5v1.5h3v-1h3v-.5h1v-.5h2v1.5h1v-2.5h2v2h1v-1h.2V1102Z" fill="#006400" shape-rendering="crispEdges"/>
<line x1="204.5" y1="1101.5" x2="1616.7" y2="1101.5" stroke="#006400" stroke-width="1.6"/>
<line x1="206.5" y1="1111.3" x2="1619.0" y2="1111.3" stroke="#000" stroke-width="1.6"/>
<line x1="489.4" y1="1111.3" x2="489.4" y2="1125.0" stroke="#000" stroke-width="1.4"/>
<text x="489.4" y="1161.4" font-size="22" fill="#000" text-anchor="middle">54.2</text>
<line x1="772.3" y1="1111.3" x2="772.3" y2="1125.0" stroke="#000" stroke-width="1.4"/>
<text x="772.3" y="1161.4" font-size="22" fill="#000" text-anchor="middle">54.4</text>
<line x1="1055.0" y1="1111.3" x2="1055.0" y2="1125.0" stroke="#000" stroke-width="1.4"/>
<text x="1055.0" y="1161.4" font-size="22" fill="#000" text-anchor="middle">54.6</text>
<line x1="1336.1" y1="1111.3" x2="1336.1" y2="1125.0" stroke="#000" stroke-width="1.4"/>
<text x="1336.1" y="1161.4" font-size="22" fill="#000" text-anchor="middle">54.8</text>
<text x="204.5" y="1146.4" font-size="21" fill="#000" font-weight="bold" textLength="45.0" lengthAdjust="spacingAndGlyphs">chr4</text>
<text x="1583.5" y="1147.0" font-size="21" fill="#000" font-weight="bold" textLength="30.0" lengthAdjust="spacingAndGlyphs">Mb</text>
<text x="8.0" y="1253.5" font-size="40" fill="#000" font-weight="bold">c</text>
<text x="207.0" y="1277.6" font-size="35" fill="#000" textLength="236.0" lengthAdjust="spacingAndGlyphs">ANO1 Insulator</text>
<line x1="138.4" y1="1297.5" x2="597.0" y2="1297.5" stroke="#000" stroke-width="2.6"/>
<text x="138.5" y="1325.4" font-size="25" fill="#000" textLength="61.0" lengthAdjust="spacingAndGlyphs">Peak:</text>
<text x="229.5" y="1325.1" font-size="25" fill="#000">1</text>
<text x="495.5" y="1325.1" font-size="25" fill="#000">2</text>
<path d="M220.7,1338.4 L231.1,1332.8 L228.9,1338.4 L231.1,1344.0 Z" fill="#000"/>
<rect x="228.4" y="1336.9" width="18.8" height="3.1" fill="#000"/>
<path d="M517.7,1338.4 L507.3,1332.8 L509.5,1338.4 L507.3,1344.0 Z" fill="#000"/>
<rect x="491.5" y="1336.9" width="18.5" height="3.1" fill="#000"/>
<text x="147.3" y="1380.5" font-size="31" fill="#000" textLength="74.6" lengthAdjust="spacingAndGlyphs">NSM1</text>
<path d="M160.5,1414h7v-3h2v.5h8v-.5h3v-.5h4v1h5v2.5h7v-3.5h3v3.5h8v-2.5h2v-.5h2v-.5h6v3.5h15v-3h2v-18.5h1v-24.5h1v-7.5h1v41.5h1v1h1v8.5h7v2.5h8v-2h3v-1h8v.5h6v-1h3v-.5h11v.5h10v3.5h8v-2.5h8v2.5h2v-3h2v-.5h7v3.5h16v-3h4v.5h7v-.5h5v-1h3v1.5h4v-1h5v1h6v2.5h6v-3.5h5v3.5h13v-2.5h6v2.5h5v-2.5h5v2.5h4v-1.5h5v-5h1v-3.5h1v-1.5h2v1h1v7h3v.5h8v-.5h1v.5h11v-.5h1v.5h7v-.5h1v.5h8v2h2v-7.5h2v-1h2v5.5h1v3h1v-1h8v-1.5h7v1h6v-1.5h1v.5h1v-.5h2v-10h1v-38.5h1v-.5h1v-4.5h1v47.5h2v7h1v-.5h1v.5h2v-1h8v4h16v-2h7v-2h2v4h9v-3.5h2v1h8v-1.5h8v1.5h3v2.5h1v-2.5h3v-.5h5v-.5h7v.5h3.5V1414Z" fill="#F98D0A" shape-rendering="crispEdges"/>
<line x1="160.5" y1="1413.5" x2="592.0" y2="1413.5" stroke="#F98D0A" stroke-width="1.7"/>
<text x="147.3" y="1454.3" font-size="31" fill="#000" textLength="76.0" lengthAdjust="spacingAndGlyphs">NSM4</text>
<path d="M160.5,1482.1v-3.5h8v-.5h9v4h6v-2.5h5v-1h9v3.5h10v-2.5h7v.5h9v-.5h2v2.5h7v-3h2v-19h1v-27.5h1v2h1v37h1v.5h1v8h2v-1h2v1h1v2h5v-2.5h2v-1h8v3.5h3v-3h8v3h13v-2.5h4v-.5h8v3h13v-4h6v4h6v-3h8v3h12v-3.5h4v3.5h5v-2h3v-1h2v-.5h5v3.5h7v-2.5h7v-1h7v.5h6v1h3v-.5h5v-.5h9v3h2v-3.5h5v3.5h6v-2h1v-1.5h4v-6.5h1v-5.5h2v-2h1v1.5h1v11h1v-.5h1v2.5h11v-.5h1v.5h10v-.5h1v.5h9v-.5h1v.5h2v-1h5v-5h2v-1h2v5.5h1v3.5h1v-1.5h15v2.5h6v-3.5h4v-8.5h1v-35.5h1v-5.5h1v2h1v42h1v-.5h1v6h5v3.5h9v-2h9v-1.5h2v1h8v-.5h7v3h4v-4h8v1h6v3h3v-4h6v4h3v-2.5h6v2.5h10.5V1482.1Z" fill="#F98D0A" shape-rendering="crispEdges"/>
<line x1="160.5" y1="1481.5" x2="592.0" y2="1481.5" stroke="#F98D0A" stroke-width="1.7"/>
<text x="147.3" y="1521.7" font-size="31" fill="#000" textLength="29.7" lengthAdjust="spacingAndGlyphs">K1</text>
<path d="M160.5,1550.2v-2.5h8v2.5h2v-3.5h12v.5h11v3h18v-2.5h6v2.5h6v-3.5h6v1h3v-.5h2v-19.5h1v-29.5h1v2h1v38h2v9h2v-.5h3v3.5h13v-2.5h4v-.5h5v.5h9v.5h2v2h17v-3.5h7v1h8v2.5h4v-2.5h6v-1h5v-.5h5v.5h4v3.5h8v-3.5h7v3.5h5v-2.5h2v2.5h10v-4h14v4h2v-3h8v3h5v-3.5h4v3.5h9v-3.5h6v1.5h3v-1.5h5v-11.5h1v-12.5h1v-1.5h1v2.5h2v18h1v.5h1v5h14v-.5h1v.5h1v-.5h4v-8.5h2v.5h1v5.5h1v-.5h1v3h3v.5h6v-.5h1v.5h3v.5h2v-14.5h2v-.5h1v-1h1v9h1v7.5h1v-.5h1v2.5h3v-3h8v-.5h6v3.5h3v-4.5h1v.5h1v-.5h2v-11h1v-47h1v-3.5h1v4h1v50h2v8.5h1v-.5h1v.5h1v-.5h1v4h29v-2.5h3v2.5h12v-2.5h4v-1h6v3.5h3v-2.5h4v-1h8v3.5h13.5V1550.2Z" fill="#F98D0A" shape-rendering="crispEdges"/>
<line x1="160.5" y1="1549.7" x2="592.0" y2="1549.7" stroke="#F98D0A" stroke-width="1.7"/>
<text x="147.3" y="1589.6" font-size="31" fill="#000" textLength="33.5" lengthAdjust="spacingAndGlyphs">K2</text>
<path d="M160.5,1618.3h7v-4h6v.5h4v3.5h3v-2.5h2v2.5h8v-3.5h6v3.5h17v-3.5h10v1h6v-1h5v-18h1v-30.5h1v6h1v36h1v-1h1v7.5h5v3.5h9v-3.5h4v1h4v2.5h8v-4h5v2h3v2h13v-3h2v3h10v-2h4v-1.5h4v3.5h11v-3h9v3h7v-3h24v.5h9v2.5h4v-3.5h7v.5h5v3h12v-3h6v3h9v-3.5h4v-.5h1v.5h1v-.5h2v-14h1v-12.5h1v2h1v2h1v-2h1v20.5h2v5h12v-.5h7v.5h1v-2.5h2v-.5h1v3h4v-.5h4v.5h3v-.5h6v-10h2v-1h1v.5h1v6.5h1v4h7v3.5h15v-4h4v-10h1v-47h1v1.5h1v1h1v48.5h1v-1.5h1v8h4v3.5h4v-2.5h3v-.5h3v3h20v-3h8v3h19v-4h1v-.5h1v1h1v-.5h3v4h3v-2.5h3v2.5h5v-2.5h3v-.5h5.5V1618.3Z" fill="#F98D0A" shape-rendering="crispEdges"/>
<line x1="160.5" y1="1617.8" x2="592.0" y2="1617.8" stroke="#F98D0A" stroke-width="1.7"/>
<text x="147.3" y="1659.7" font-size="31" fill="#000" textLength="34.0" lengthAdjust="spacingAndGlyphs">K4</text>
<path d="M160.5,1686.4h19v-3.5h5v3.5h9v-3h8v3h18v-3.5h7v1h8v-16.5h1v-27h1v-1h1v37h1v1h1v7h1v-1h6v3h3v-4h6v4h13v-3.5h4v-.5h6v4h7v-3h4v3h4v-2h7v-1h2v-1h6v1.5h10v2.5h6v-2.5h4v-1h3v1h6v2.5h2v-3.5h6v3.5h2v-3h4v3h8v-2.5h3v-.5h3v-.5h9v1h9v-1h9v3.5h4v-3h7v3h4v-2.5h5v-1.5h8v.5h1v-14h1v-11h1v-3h1v3h1v1h1v18.5h1v.5h1v5h2v.5h8v-.5h1v.5h1v-.5h3v.5h5v-3h1v-.5h2v3.5h1v-.5h2v.5h12v1.5h1v-2.5h1v-12.5h1v.5h1v.5h1v1h1v6.5h1v4.5h5v3.5h9v-3h8v-.5h2v.5h1v-.5h1v-8h1v-35.5h1v-4.5h1v-.5h1v42.5h1v.5h1v6h1v.5h1v-.5h2v3h5v-3h3v3h9v-2.5h9v2.5h12v-3.5h7v3.5h3v-2.5h9v-.5h3v.5h3v2.5h4v-2.5h6v2.5h9.5V1686.4Z" fill="#F98D0A" shape-rendering="crispEdges"/>
<line x1="160.5" y1="1685.9" x2="592.0" y2="1685.9" stroke="#F98D0A" stroke-width="1.7"/>
<text x="147.3" y="1730.2" font-size="31" fill="#000" textLength="33.5" lengthAdjust="spacingAndGlyphs">K6</text>
<path d="M160.5,1754.5v-3h4v-.5h6v3.5h4v-3.5h8v3.5h14v-3h4v3h2v-2.5h6v2.5h9v-2.5h3v-.5h7v3h5v-3.5h2v-21h1v-38.5h1v.5h1v49.5h1v-1h1v11h1v1h1v-.5h3v2.5h7v-2.5h3v2.5h29v-3.5h4v1h6v-1h13v3.5h6v-3h2v3h3v-3h2v.5h9v-1h8v1h6v-1h7v3.5h4v-3.5h4v1.5h6v-2h8v1h7v3h4v-2.5h11v-.5h2v3h5v-2.5h9v-.5h6v.5h5v-.5h1v-8h1v-7.5h2v-.5h1v1.5h1v12h1v-.5h1v3h4v-.5h1v.5h11v-.5h1v.5h1v-.5h1v.5h1v-3.5h3v3.5h17v-21h1v-1h1v.5h1v-1h1v13.5h1v9h2v.5h1v-1.5h3v1h13v3h3v-4.5h3v-.5h1v-11.5h1v-51.5h1v6.5h1v-6.5h1v56h1v1h1v7h3v.5h1v.5h1v-1h8v1.5h6v-1h4v3.5h7v-3h7v.5h4v-1.5h8v.5h7v.5h3v-.5h5v.5h5v.5h7v-1h6v.5h4.5V1754.5Z" fill="#F98D0A" shape-rendering="crispEdges"/>
<line x1="160.5" y1="1754.0" x2="592.0" y2="1754.0" stroke="#F98D0A" stroke-width="1.7"/>
<text x="147.3" y="1798.0" font-size="31" fill="#000" textLength="32.5" lengthAdjust="spacingAndGlyphs">K7</text>
<path d="M160.5,1822.6v-3.5h8v1h6v-1h8v.5h2v3h7v-3h6v3h8v-2h6v-.5h6v2.5h6v-2h7v-.5h4v-15h1v-24.5h1v-1h1v33.5h1v.5h1v7h1v-1.5h6v.5h4v3h6v-3.5h9v3.5h16v-3h5v-.5h5v3.5h13v-2.5h4v2.5h4v-2.5h3v2.5h6v-3h21v.5h7v-.5h8v3h3v-2.5h8v2.5h6v-2.5h3v2.5h2v-2.5h13v-.5h6v-.5h9v1h9v-.5h5v-10.5h1v-7.5h1v.5h1v-1.5h1v-.5h1v16h1v.5h1v3h16v-1h4v-1h2v.5h1v1.5h3v-.5h1v.5h5v-.5h1v.5h5v.5h2v-15.5h1v-.5h1v1.5h2v8h1v5h1v2h1v2h1v-3.5h3v.5h2v3h9v-4h4v1h1v-1.5h1v-.5h1v.5h2v-10.5h1v-51.5h1v3h1v-4h1v55.5h2v8h2v.5h2v.5h3v-.5h5v3.5h2v-3h8v.5h2v.5h2v2h17v-4h5v1.5h6v2.5h7v-2.5h6v-1.5h5v1.5h5.5V1822.6Z" fill="#F98D0A" shape-rendering="crispEdges"/>
<line x1="160.5" y1="1822.0" x2="583.0" y2="1822.0" stroke="#F98D0A" stroke-width="1.7"/>
<text x="147.3" y="1865.6" font-size="31" fill="#000" textLength="48.0" lengthAdjust="spacingAndGlyphs">K10</text>
<path d="M165,1890.7v-2.5h6v.5h9v-1.5h8v3.5h7v-3.5h9v3.5h2v-2.5h5v-1h11v3.5h5v-3.5h7v-13h1v-18h1v-1h1v27.5h1v.5h1v6h5v1.5h3v-2.5h3v-.5h6v.5h5v2.5h9v-4h5v4h2v-2h5v2h7v-3.5h6v3.5h4v-3h3v3h6v-2.5h4v-1h7v3.5h22v-3.5h8v3.5h10v-3.5h8v.5h8v3h3v-3h23v3h9v-3.5h9v.5h3v-10h1v-10.5h1v-1h1v1.5h1v16h1v.5h1v3.5h3v-.5h2v.5h3v-.5h1v.5h9v-.5h1v.5h2v-5.5h3v4.5h1v.5h1v.5h5v-.5h4v.5h3v1.5h3v-11.5h1v.5h1v1h1v6h1v3.5h3v2h8v-3h9v-.5h2v-1h2v.5h2v-11.5h1v-53.5h1v5.5h1v-.5h1v3.5h1v49.5h1v7.5h1v-.5h1v.5h1v-.5h1v.5h4v3.5h8v-3h14v-1h8v.5h6v.5h2v-.5h3v3.5h7v-2.5h6v-1.5h3v.5h1v-.5h2v1.5h4v-.5h7v-.5h6v1h2V1890.7Z" fill="#F98D0A" shape-rendering="crispEdges"/>
<line x1="165.0" y1="1890.1" x2="592.0" y2="1890.1" stroke="#F98D0A" stroke-width="1.7"/>
<text x="147.3" y="1937.2" font-size="31" fill="#000" textLength="29.5" lengthAdjust="spacingAndGlyphs">P1</text>
<path d="M160.5,1958.8h18v-3.5h6v3.5h8v-2.5h4v-1h2v3.5h9v-3.5h8v1.5h9v2h8v-3.5h1v-.5h1v-22h1v-39.5h1v1.5h1v51h2v10.5h6v2.5h5v-3h4v-.5h8v3.5h6v-2.5h5v-.5h7v.5h3v2.5h8v-2.5h3v-1.5h5v4h11v-3.5h5v1h7v2.5h14v-3h7v-.5h2v3.5h8v-4h17v4h3v-3.5h4v.5h5v3h20v-2.5h5v-.5h3v.5h6v-2h1v.5h2v-.5h2v-16.5h1v-10h1v-3h1v3.5h1v-2.5h1v23h1v.5h1v5.5h2v1h1v-.5h1v.5h2v-.5h1v.5h2v-.5h1v.5h10v-5.5h1v1h1v-.5h1v4h1v.5h1v.5h4v-.5h7v.5h2v1h1v-1h1v-12h1v-.5h1v-.5h1v-.5h1v8.5h1v5.5h8v-1h6v3.5h6v-2.5h2v-1.5h1v-.5h3v-10.5h1v-47h1v-7h1v2.5h1v54h1v1.5h1v7h3v.5h5v.5h4v-.5h7v3.5h11v-3.5h8v3.5h9v-3h22v.5h5v2.5h8v-4h4.5V1958.8Z" fill="#F98D0A" shape-rendering="crispEdges"/>
<line x1="160.5" y1="1958.2" x2="592.0" y2="1958.2" stroke="#F98D0A" stroke-width="1.7"/>
<text x="147.3" y="2005.5" font-size="31" fill="#000" textLength="33.5" lengthAdjust="spacingAndGlyphs">P2</text>
<path d="M160.5,2026.9h21v-3h6v-.5h5v3.5h13v-3h3v-.5h8v3.5h16v-3h2v-18h1v-26h1v-2.5h1v39.5h1v-.5h1v7.5h2v1h3v-1h11v.5h3v-.5h4v3h3v-2h2v2h16v-4h4v4h4v-3h7v3h5v-3h3v.5h4v-.5h5v3h16v-3h9v.5h9v2.5h12v-3h2v3h3v-3h3v3h8v-4h5v1.5h16v-1h6v.5h2v3h10v-3.5h4v.5h1v-11h1v-12h1v3h1v-1h1v-.5h1v17h1v.5h1v4h4v-.5h1v.5h9v-.5h1v.5h5v-4.5h3v3.5h2v1h13v1.5h2v-11h1v-.5h1v-.5h2v7h1v3h9v3.5h13v-4.5h2v.5h1v-.5h1v-11.5h1v-53.5h1v8h1v-.5h1v50h2v8h1v.5h1v-.5h1v.5h1v1h1v-1h8v1h3v-.5h2v3h11v-3.5h5v1h5v2.5h8v-3.5h22v1h5v-1h2v.5h2v3h8.5V2026.9Z" fill="#F98D0A" shape-rendering="crispEdges"/>
<line x1="160.5" y1="2026.4" x2="592.0" y2="2026.4" stroke="#F98D0A" stroke-width="1.7"/>
<text x="147.3" y="2071.9" font-size="31" fill="#000" textLength="29.7" lengthAdjust="spacingAndGlyphs">S1</text>
<path d="M160.5,2095h16v-4h8v4h5v-2.5h10v-.5h8v-.5h6v-.5h6v4h6v-4h3v4h4v-1h2v-6.5h1v-9.5h2v13.5h13v.5h6v.5h4v-1.5h4v.5h3v.5h18v3h2v-3h11v.5h7v-.5h8v3h17v-2.5h2v-.5h3v.5h2v-.5h9v3h14v-2.5h4v-.5h8v3h4v-3h3v3h6v-2.5h8v2.5h6v-2.5h4v2.5h4v-3.5h9v3h5v-1.5h1v-1.5h8v1h28v-.5h8v-.5h2v-3h2v-.5h1v.5h1v3h1v2.5h2v1h3v-3h5v-.5h6v-.5h14v1h5v.5h5v-1h5v.5h9v.5h7v2.5h11v-3h3v1h2v2h16v-2.5h4v-1h4v3.5h4v-3h4v-.5h4v3.5h.5V2095Z" fill="#F98D0A" shape-rendering="crispEdges"/>
<line x1="160.5" y1="2094.5" x2="587.0" y2="2094.5" stroke="#F98D0A" stroke-width="1.7"/>
<text x="147.3" y="2140.1" font-size="31" fill="#000" textLength="33.8" lengthAdjust="spacingAndGlyphs">S2</text>
<path d="M160.5,2163.1h6v-3h3v3h4v-2.5h9v-1h4v1h11v-.5h6v3h2v-3.5h3v.5h2v.5h5v2.5h2v-2.5h2v.5h9v2h3v-3h1v-.5h1v.5h1v-22h1v-29h1v4h1v38h2v9.5h5v.5h4v-1.5h13v-.5h5v4h25v-3.5h9v3.5h7v-2h2v-1.5h7v1h3v2.5h2v-2.5h14v-1h8v3.5h9v-3.5h7v3.5h14v-2.5h3v-.5h10v-.5h8v3.5h6v-3.5h2v3.5h2v-3h6v3h6v-2h1v.5h4v-6h1v-4.5h1v-.5h2v-1h1v9.5h1v.5h1v1h14v-1h4v1h2v-2h1v-.5h2v2.5h3v-1h4v1h4v-.5h6v-11.5h1v1h1v-1.5h1v1h1v7h1v5h1v.5h1v1.5h3v-3h16v-1h5v-1h1v-13h3v14.5h1v.5h1v1h3v-1.5h7v1h4v2.5h2v-2.5h5v-1h6v1h7v-1h13v3.5h14v-2.5h4v-1h16v.5h5.5V2163.1Z" fill="#F98D0A" shape-rendering="crispEdges"/>
<line x1="160.5" y1="2162.6" x2="592.0" y2="2162.6" stroke="#F98D0A" stroke-width="1.7"/>
<text x="147.3" y="2207.7" font-size="31" fill="#000" textLength="32.6" lengthAdjust="spacingAndGlyphs">S3</text>
<path d="M160.5,2231.2v-2h4v2h18v-2.5h6v2.5h4v-4h6v1.5h6v2.5h5v-2.5h8v-.5h3v.5h4v-1h5v3.5h3v-1.5h2v-9.5h1v-17.5h2v22.5h2v5h2v-2.5h10v.5h10v3h8v-3.5h12v3.5h6v-2.5h5v-1.5h7v1.5h5v-1h7v3.5h2v-4h6v.5h6v3.5h8v-3h9v-1h4v1h6v3h16v-3.5h9v1h10v2.5h18v-2.5h6v-.5h2v3h2v-3.5h2v3h4v-2h1v-1.5h4v.5h6v1h3v-.5h6v.5h6v-.5h4v.5h6v-1.5h9v3h2v-9.5h4v5h1v2h3v1h8v.5h5v-1.5h6v3h4v-2.5h1v-7.5h2v1h1v6.5h5v.5h8v2.5h5v-2.5h21v2.5h4v-3.5h17v.5h3v-.5h5v.5h3v-.5h7v1h7v-1h2v3.5h1.5V2231.2Z" fill="#F98D0A" shape-rendering="crispEdges"/>
<line x1="160.5" y1="2230.7" x2="592.0" y2="2230.7" stroke="#F98D0A" stroke-width="1.7"/>
<text x="147.3" y="2275.2" font-size="31" fill="#000" textLength="34.0" lengthAdjust="spacingAndGlyphs">S4</text>
<path d="M160.5,2299.3v-3h4v3h13v-3h9v.5h8v2.5h5v-2.5h2v2.5h8v-2h7v-2h9v4h7v-1.5h2v-9.5h1v-13h1v.5h1v18h1v.5h1v4h2v-2.5h5v.5h2v3h14v-2.5h4v-1.5h3v1h4v3h7v-3.5h3v.5h17v3h13v-3h10v3h3v-4h4v1.5h6v2.5h8v-2.5h9v2.5h4v-2.5h2v-1h2v3.5h3v-2.5h20v2.5h2v-3.5h8v1h3v-1.5h9v4h4v-2h7v-1.5h5v-2.5h4v3h3v.5h12v-.5h7v-1h1v-.5h1v.5h1v1.5h15v1h2v-11h1v.5h2v1h1v5.5h1v2.5h8v3h14v-3h5v-7.5h1v1h1v-1h1v8.5h2v1.5h2v-3.5h5v.5h5v3.5h4v-3.5h6v1h6v.5h3v-.5h7v2.5h8v-2h6v2h6v-2.5h3v-1.5h1v-.5h1v.5h2v-.5h1v.5h1v4h12v-3.5h6v3.5h1.5V2299.3Z" fill="#F98D0A" shape-rendering="crispEdges"/>
<line x1="160.5" y1="2298.8" x2="592.0" y2="2298.8" stroke="#F98D0A" stroke-width="1.7"/>
<text x="147.3" y="2342.4" font-size="31" fill="#000" textLength="32.5" lengthAdjust="spacingAndGlyphs">S5</text>
<path d="M160.5,2367.4v-2.5h5v2.5h6v-3.5h5v1h2v-1h3v1.5h5v2h4v-3h7v-.5h5v3.5h9v-4h9v.5h2v.5h8v.5h3v-.5h1v-15h1v-24h1v-1.5h1v34h1v1h1v5.5h10v3h5v-3.5h4v3.5h5v-3.5h2v3.5h35v-2h7v-1h8v3h22v-3h7v-.5h7v3.5h2v-3.5h5v3.5h5v-3.5h4v3.5h7v-3.5h10v-.5h9v1.5h5v-.5h14v3h4v-2h1v.5h1v-.5h3v-5.5h1v-7h1v.5h1v1h1v-1.5h1v10h1v.5h1v1.5h3v-1h3v1h7v-.5h4v.5h3v-2.5h3v2.5h1v-1h8v1h8v-13.5h1v-.5h2v1h1v7.5h1v5.5h2v-1h3v3.5h10v-3.5h9v1h2v-2.5h1v-15h1v2h1v-.5h1v15.5h2v.5h1v1.5h3v1h17v-3.5h5v3.5h3v-3h4v3h9v-4h2v1h4v-.5h7v1h14v-.5h3v3h7v-2.5h6v2.5h1.5V2367.4Z" fill="#F98D0A" shape-rendering="crispEdges"/>
<line x1="160.5" y1="2366.8" x2="592.0" y2="2366.8" stroke="#F98D0A" stroke-width="1.7"/>
<text x="147.3" y="2410.6" font-size="31" fill="#000" textLength="33.5" lengthAdjust="spacingAndGlyphs">S6</text>
<path d="M160.5,2435.5v-2.5h8v.5h7v-.5h4v2.5h6v-3h2v-1h5v1.5h3v2.5h24v-2h7v-.5h5v-1h3v-13h1v-22h1v2h1v28.5h2v6.5h4v-1.5h2v3h9v-3h2v-.5h9v.5h9v3h9v-2.5h8v-.5h2v.5h7v2.5h11v-2.5h4v-.5h2v3h9v-2.5h12v2.5h5v-3.5h4v.5h7v-.5h3v3.5h5v-4h8v4h6v-2.5h2v2.5h8v-2.5h2v2.5h8v-4h5v4h15v-1.5h2v-1.5h3v-3.5h1v-5h1v1.5h1v-1.5h1v1h1v7.5h1v-.5h1v1h20v-1.5h1v-.5h1v.5h1v1.5h17v-15h2v.5h1v.5h1v8h1v6h2v2.5h5v-3.5h7v3.5h8v-2h4v-4h1v-18.5h1v-3h1v-.5h1v23h1v.5h1v2.5h3v.5h1v1.5h4v-4h4v1.5h5v.5h2v-1h4v.5h3v-.5h2v3h4v-4h4v1h6v3h17v-3.5h2v-.5h3v-.5h1v1h1v-.5h1v4h7v-3h9v3h3.5V2435.5Z" fill="#F98D0A" shape-rendering="crispEdges"/>
<line x1="160.5" y1="2435.0" x2="592.0" y2="2435.0" stroke="#F98D0A" stroke-width="1.7"/>
<rect x="133.6" y="1358.3" width="2.9" height="122.9" fill="#6E6E6E"/>
<rect x="133.6" y="1494.0" width="2.9" height="398.5" fill="#000"/>
<rect x="133.6" y="1902.9" width="2.9" height="127.7" fill="#1212DC"/>
<rect x="133.6" y="2040.5" width="2.9" height="396.0" fill="#E3171E"/>
<text x="126.0" y="1487.0" font-size="31" fill="#6E6E6E" text-anchor="end" textLength="63.5" lengthAdjust="spacingAndGlyphs">NSM</text>
<text x="117.5" y="1672.1" font-size="31" fill="#000" font-style="italic" text-anchor="end" textLength="40.0" lengthAdjust="spacingAndGlyphs">KIT</text>
<text x="116.0" y="1710.6" font-size="31" fill="#000" text-anchor="end" textLength="99.3" lengthAdjust="spacingAndGlyphs">mutant</text>
<text x="118.0" y="1953.0" font-size="31" fill="#1212DC" font-style="italic" text-anchor="end" textLength="110.0" lengthAdjust="spacingAndGlyphs">PDGFRA</text>
<text x="116.0" y="1991.0" font-size="31" fill="#1212DC" text-anchor="end" textLength="99.3" lengthAdjust="spacingAndGlyphs">mutant</text>
<text x="118.0" y="2219.7" font-size="31" fill="#E3171E" text-anchor="end" textLength="62.0" lengthAdjust="spacingAndGlyphs">SDH</text>
<text x="116.0" y="2257.4" font-size="31" fill="#E3171E" text-anchor="end" textLength="116.0" lengthAdjust="spacingAndGlyphs">deficient</text>
<line x1="160.5" y1="2442.7" x2="597.8" y2="2442.7" stroke="#000" stroke-width="1.8"/>
<line x1="335.8" y1="2442.7" x2="335.8" y2="2458.6" stroke="#000" stroke-width="1.5"/>
<line x1="511.0" y1="2442.7" x2="511.0" y2="2458.6" stroke="#000" stroke-width="1.5"/>
<text x="167.3" y="2479.2" font-size="25" fill="#000" font-weight="bold" textLength="66.5" lengthAdjust="spacingAndGlyphs">chr11</text>
<text x="335.4" y="2495.8" font-size="25" fill="#000" text-anchor="middle" textLength="48.0" lengthAdjust="spacingAndGlyphs">69.9</text>
<text x="511.0" y="2495.8" font-size="25" fill="#000" text-anchor="middle" textLength="62.0" lengthAdjust="spacingAndGlyphs">69.92</text>
<text x="563.0" y="2495.8" font-size="25" fill="#000" font-weight="bold" textLength="40.5" lengthAdjust="spacingAndGlyphs">Mb</text>
<text x="1058.0" y="1252.8" font-size="38" fill="#000" font-weight="bold" textLength="25.0" lengthAdjust="spacingAndGlyphs">e</text>
<text x="1280.5" y="1277.0" font-size="34" fill="#000" textLength="194.5" lengthAdjust="spacingAndGlyphs">KIT Insulator</text>
<line x1="1192.3" y1="1297.6" x2="1543.0" y2="1297.6" stroke="#000" stroke-width="2.6"/>
<text x="1193.0" y="1325.5" font-size="25" fill="#000" textLength="61.0" lengthAdjust="spacingAndGlyphs">Peak:</text>
<text x="1331.5" y="1325.2" font-size="25" fill="#000">1</text>
<text x="1435.5" y="1325.2" font-size="25" fill="#000">2</text>
<path d="M1323.3,1337.6 L1333.7,1332.0 L1331.5,1337.6 L1333.7,1343.2 Z" fill="#000"/>
<rect x="1331.0" y="1336.0" width="18.6" height="3.1" fill="#000"/>
<path d="M1429.5,1337.6 L1439.9,1332.0 L1437.7,1337.6 L1439.9,1343.2 Z" fill="#000"/>
<rect x="1437.2" y="1336.0" width="17.7" height="3.1" fill="#000"/>
<text x="1201.3" y="1380.3" font-size="31" fill="#000" textLength="74.6" lengthAdjust="spacingAndGlyphs">NSM1</text>
<path d="M1240,1405.5v-3.5h18v-.5h8v.5h14v.5h2v3h2v-3.5h5v3.5h3v-2.5h7v-1h3v3.5h5v-4h4v1h6v-.5h2v-.5h8v1.5h9v-4h1v-1.5h1v.5h1v4h1v-.5h1v1.5h3v-.5h7v3h5v-4h6v4h8v-3h8v3h9v-3.5h15v1.5h7v-1.5h10v3.5h13v-4.5h1v.5h2v-.5h2v-3h1v-.5h1v-26.5h2v-7h1v-3h1v24h1v1h1v15.5h4v-.5h1v.5h1v1h10v-1h2v1h9v-.5h7v3.5h7v-2.5h14v2.5h2v-3.5h4v3.5h12.3V1405.5Z" fill="#F98D0A" shape-rendering="crispEdges"/>
<line x1="1240.0" y1="1405.0" x2="1518.3" y2="1405.0" stroke="#F98D0A" stroke-width="1.7"/>
<text x="1201.3" y="1454.6" font-size="31" fill="#000" textLength="76.0" lengthAdjust="spacingAndGlyphs">NSM4</text>
<path d="M1240,1474.3h9v-3.5h6v1h8v-1h6v3.5h4v-2.5h3v.5h3v-2h9v4h9v-3h5v3h15v-3h8v-.5h4v3.5h4v-1h3v-11.5h1v-1h1v.5h1v6.5h1v-1h1v5h8v-.5h7v.5h10v-1.5h6v.5h2v3.5h6v-2.5h4v2.5h2v-3.5h13v3.5h10v-3.5h17v3.5h5v-2h1v-1.5h5v-3h2v-23.5h1v3h1v-6h1v-3h1v19.5h1v-2h1v15h6v3.5h10v-3.5h2v3.5h7v-2.5h4v2.5h28v-3h8v-.5h7v3.5h6v-2.5h7v2.5h11.5V1474.3Z" fill="#F98D0A" shape-rendering="crispEdges"/>
<line x1="1240.0" y1="1473.8" x2="1541.5" y2="1473.8" stroke="#F98D0A" stroke-width="1.7"/>
<text x="1201.3" y="1521.8" font-size="31" fill="#000" textLength="29.7" lengthAdjust="spacingAndGlyphs">K1</text>
<path d="M1240,1543.3h9v-3h8v-.5h8v3.5h4v-3h9v-.5h4v3.5h9v-3h15v.5h9v-.5h5v.5h5v2.5h8v-3.5h1v-.5h1v.5h1v-37h1v-5.5h1v.5h1v22.5h1v-1.5h1v20h4v2h7v2.5h12v-3.5h5v1h7v-1h2v.5h8v.5h9v2.5h16v-2.5h8v-.5h4v3h7v-2.5h2v-1.5h3v-.5h1v.5h1v-3.5h1v.5h1v-25h1v-2.5h1v-5.5h1v-.5h1v20h1v1.5h1v15h5v-.5h1v4.5h10v-2.5h9v-1h4v.5h2v.5h3v.5h5v-.5h7v2.5h12v-3h6v3h8v-3.5h7v.5h2v.5h7v2.5h8.5V1543.3Z" fill="#F98D0A" shape-rendering="crispEdges"/>
<line x1="1240.0" y1="1542.8" x2="1541.5" y2="1542.8" stroke="#F98D0A" stroke-width="1.7"/>
<text x="1201.3" y="1589.0" font-size="31" fill="#000" textLength="33.5" lengthAdjust="spacingAndGlyphs">K2</text>
<path d="M1240,1612.1v-2h5v-2h4v4h9v-3.5h8v3.5h8v-3.5h3v3.5h8v-3.5h8v1.5h8v-1.5h4v3.5h6v-3h7v3h11v-3.5h7v-26.5h1v-5.5h1v2h1v17h1v-.5h1v13.5h3v-.5h1v.5h11v3.5h8v-3h2v3h7v-2.5h4v2.5h15v-2.5h7v2.5h33v-4.5h4v-.5h1v-3.5h1v-.5h1v-27h1v-2h1v-8h1v2.5h1v22h1v-1h1v18h5v-.5h1v5h13v-3h36v-.5h2v3.5h4v-2.5h14v-1h2v-.5h5v4h5v-2.5h2v2.5h3v-3h4v.5h.5V1612.1Z" fill="#F98D0A" shape-rendering="crispEdges"/>
<line x1="1240.0" y1="1611.5" x2="1541.5" y2="1611.5" stroke="#F98D0A" stroke-width="1.7"/>
<text x="1201.3" y="1659.6" font-size="31" fill="#000" textLength="34.0" lengthAdjust="spacingAndGlyphs">K4</text>
<path d="M1240,1681.1v-3.5h3v1h3v2.5h26v-2.5h6v2.5h11v-3h9v3h8v-2.5h5v2.5h7v-3h11v.5h4v-2h2v-.5h1v-45h1v-7h1v1h1v28h2v22h4v6h3v-3.5h9v1h6v-1h5v.5h7v3h10v-2.5h8v-.5h9v3h3v-2.5h4v-.5h11v-.5h9v3.5h3v-5h1v-.5h4v-5h1v.5h1v-32.5h1v1.5h1v-15h1v3.5h1v25.5h1v-2h1v23h1v1h2v-.5h1v.5h2v5h13v-2h9v-1h6v3h2v-2h2v-.5h3v-.5h3v3h9v-3.5h2v1h9v-.5h9v3h2v-3.5h9v3.5h6v-3h6.5V1681.1Z" fill="#F98D0A" shape-rendering="crispEdges"/>
<line x1="1240.0" y1="1680.5" x2="1541.5" y2="1680.5" stroke="#F98D0A" stroke-width="1.7"/>
<text x="1201.3" y="1730.2" font-size="31" fill="#000" textLength="32.5" lengthAdjust="spacingAndGlyphs">K5</text>
<path d="M1240,1749.8h2v-3.5h9v-.5h3v4h6v-3.5h5v.5h8v3h6v-3.5h9v3.5h7v-3h2v3h5v-3h3v.5h18v2.5h7v-2.5h2v-.5h4v-27.5h1v-4h1v.5h1v16.5h2v14.5h2v-.5h2v1h2v2.5h3v-4h4v4h13v-2.5h6v-.5h2v3h11v-4h5v4h5v-3h4v1h6v-1.5h9v3.5h12v-2.5h5v-2.5h1v-.5h2v.5h2v-4h1v-.5h1v-33.5h1v-.5h1v-6.5h1v-3h1v26.5h1v2.5h1v19h1v-.5h1v.5h1v-.5h1v.5h1v-.5h1v5.5h7v-3.5h13v1h2v2.5h6v-3.5h5v3.5h7v-3h5v3h9v-3h3v.5h8v2.5h18v-2.5h7.5V1749.8Z" fill="#F98D0A" shape-rendering="crispEdges"/>
<line x1="1240.0" y1="1749.2" x2="1541.5" y2="1749.2" stroke="#F98D0A" stroke-width="1.7"/>
<text x="1201.3" y="1798.3" font-size="31" fill="#000" textLength="33.5" lengthAdjust="spacingAndGlyphs">K6</text>
<path d="M1240,1818.6v-3.5h8v1h6v2.5h9v-3h8v3h8v-2.5h4v-.5h3v.5h6v-1h10v3.5h17v-3.5h7v3.5h7v-2.5h1v.5h1v-.5h1v-25h1v-4h2v16.5h1v-1h1v13h4v.5h6v2.5h17v-3h9v3h3v-3h2v-.5h5v3.5h9v-2h4v-2h7v4h3v-2h3v2h7v-2h3v-2h5v.5h4v-1h1v.5h1v.5h1v-.5h1v-.5h1v-2.5h1v-.5h1v-25h1v2h1v-10.5h1v-1.5h1v22.5h1v.5h1v15.5h5v-.5h1v1h8v3.5h4v-3h8v.5h4v-1h5v1h7v2.5h8v-2.5h8v2.5h5v-2.5h6v-1h9v3.5h8v-3.5h4v3.5h6.5V1818.6Z" fill="#F98D0A" shape-rendering="crispEdges"/>
<line x1="1240.0" y1="1818.0" x2="1541.5" y2="1818.0" stroke="#F98D0A" stroke-width="1.7"/>
<text x="1201.3" y="1867.0" font-size="31" fill="#000" textLength="48.0" lengthAdjust="spacingAndGlyphs">K10</text>
<path d="M1240,1887.6v-2.5h3v2.5h8v-3h9v3h3v-3.5h8v1h8v2.5h10v-3.5h7v3.5h9v-2.5h11v-.5h3v1h7v2h7v-2.5h3v-25.5h1v-3h1v.5h1v14.5h1v1.5h1v11.5h4v1h3v-1.5h8v3.5h9v-2.5h7v-.5h20v.5h2v2.5h3v-3h5v3h2v-2.5h9v2.5h6v-3h8v3h4v-2h1v-1h2v.5h1v-.5h2v-2.5h1v.5h1v-19.5h1v2h1v-7.5h1v2.5h1v12.5h1v2h1v10h2v.5h1v-.5h1v.5h1v-.5h5v.5h8v2.5h8v-3.5h7v3.5h29v-2.5h8v-1h6v1h9v2.5h8v-2.5h2v2.5h1.5V1887.6Z" fill="#F98D0A" shape-rendering="crispEdges"/>
<line x1="1240.0" y1="1887.0" x2="1541.5" y2="1887.0" stroke="#F98D0A" stroke-width="1.7"/>
<text x="1201.3" y="1937.3" font-size="31" fill="#000" textLength="29.5" lengthAdjust="spacingAndGlyphs">P1</text>
<path d="M1240,1955.4h9v-2.5h5v-.5h15v.5h3v-1.5h4v4h4v-3.5h8v1.5h9v2h2v-3.5h3v1h7v2.5h5v-3.5h11v3.5h8v-1.5h3v-14h1v-4h1v-1h1v10.5h2v7h5v.5h3v-.5h6v-.5h9v3.5h13v-3.5h16v3.5h5v-2.5h4v2.5h6v-2.5h3v2.5h21v-4.5h1v.5h1v-1h2v.5h1v-3h1v-.5h1v-29h1v.5h1v-6h1v-4h1v23h1v1h1v17.5h1v.5h5v1.5h8v-.5h13v3.5h3v-2.5h8v2.5h4v-3.5h6v3.5h5v-3h2v3h13v-3h4v3h20v-3.5h3v1h1.5V1955.4Z" fill="#F98D0A" shape-rendering="crispEdges"/>
<line x1="1240.0" y1="1954.9" x2="1541.5" y2="1954.9" stroke="#F98D0A" stroke-width="1.7"/>
<text x="1201.3" y="2004.5" font-size="31" fill="#000" textLength="33.5" lengthAdjust="spacingAndGlyphs">P2</text>
<path d="M1240,2024.5h9v-3h13v3h5v-2.5h4v2.5h29v-3.5h6v.5h6v3h15v-3.5h8v1h1v-7.5h1v-1.5h1v1h1v5h2v3h2v-1h8v-.5h4v.5h9v3.5h5v-4h2v4h2v-2.5h6v2.5h7v-2.5h5v2.5h5v-3.5h3v3.5h21v-3h3v-.5h9v-.5h1v.5h1v-.5h3v-3.5h1v.5h1v-21.5h1v-.5h1v-9.5h1v1.5h1v19h1v-.5h1v14.5h1v.5h2v-.5h2v.5h1v3.5h3v-2.5h7v-.5h4v3h8v-3h9v-.5h9v-.5h9v1.5h6v-1h3v.5h8v-.5h3v3.5h15v-2h3v-.5h3.5V2024.5Z" fill="#F98D0A" shape-rendering="crispEdges"/>
<line x1="1240.0" y1="2024.0" x2="1541.5" y2="2024.0" stroke="#F98D0A" stroke-width="1.7"/>
<text x="1201.3" y="2072.0" font-size="31" fill="#000" textLength="29.7" lengthAdjust="spacingAndGlyphs">S1</text>
<path d="M1240,2093.5v-2.5h4v2.5h7v-3h6v3h14v-3.5h5v-.5h3v1.5h9v-.5h4v-1h2v4h9v-2.5h8v2.5h6v-4h9v1.5h6v-.5h4v-6h1v-.5h1v-1.5h1v6h2v2.5h7v2.5h9v-3h3v-.5h11v3.5h5v-2.5h9v-1h2v.5h6v1h5v2h6v-3h8v3h8v-3.5h3v3.5h6v-3.5h8v-2.5h2v-20h1v.5h1v-5.5h1v-1.5h1v16h1v.5h1v13h1v-.5h1v.5h2v-.5h2v.5h5v.5h11v2.5h21v-3.5h4v3.5h8v-2.5h2v2.5h2v-3h3v3h7v-2.5h7v2.5h8v-2.5h10v2.5h2.5V2093.5Z" fill="#F98D0A" shape-rendering="crispEdges"/>
<line x1="1240.0" y1="2093.0" x2="1541.5" y2="2093.0" stroke="#F98D0A" stroke-width="1.7"/>
<text x="1201.3" y="2139.1" font-size="31" fill="#000" textLength="33.8" lengthAdjust="spacingAndGlyphs">S2</text>
<path d="M1240,2162.2h5v-2.5h14v-1.5h2v1.5h3v-1h7v.5h6v3h2v-3h8v3h2v-2.5h14v-1h12v1h4v2.5h7v-2.5h9v-.5h1v-5h1v-1.5h1v.5h1v5h2v3h4v1h1v-3.5h4v-.5h9v1.5h13v.5h3v-.5h4v-.5h9v.5h3v-1h2v3.5h14v-3.5h5v3.5h5v-3h9v-.5h4v.5h2v.5h5v-.5h2v-10.5h2v-1.5h1v-1.5h1v8.5h2v6.5h1v-2.5h8v1.5h2v2.5h4v-3.5h8v1h14v2.5h17v-3.5h7v3.5h8v-3h14v-.5h5v1h6v2.5h2.5V2162.2Z" fill="#F98D0A" shape-rendering="crispEdges"/>
<line x1="1240.0" y1="2161.7" x2="1541.5" y2="2161.7" stroke="#F98D0A" stroke-width="1.7"/>
<text x="1201.3" y="2206.3" font-size="31" fill="#000" textLength="32.6" lengthAdjust="spacingAndGlyphs">S3</text>
<path d="M1240,2231v-3.5h6v1h3v-.5h5v3h6v-2.5h6v-1.5h8v1.5h9v-.5h3v3h8v-3.5h6v.5h8v-.5h2v1h4v-.5h4v3h5v-3.5h9v3.5h1v-.5h3v-6h1v-.5h1v-.5h1v4h2v2.5h1v.5h1v-2h2v2.5h4v-3h7v3h33v-2h9v-1h12v-.5h2v3.5h20v-.5h1v-3h6v-1.5h2v-.5h1v-.5h1v3h2v2.5h3v-3h5v3.5h6v-4h2v1.5h2v2.5h7v-2h4v2h8v-3.5h6v1h2v2.5h14v-3h4v.5h5v2.5h5v-2.5h5v2.5h4v-4h5v4h3v-3h5v3h1.5V2231Z" fill="#F98D0A" shape-rendering="crispEdges"/>
<line x1="1240.0" y1="2230.5" x2="1541.5" y2="2230.5" stroke="#F98D0A" stroke-width="1.7"/>
<text x="1201.3" y="2274.4" font-size="31" fill="#000" textLength="34.0" lengthAdjust="spacingAndGlyphs">S4</text>
<path d="M1240,2300.3h37v-3h7v-.5h5v3.5h7v-4h7v4h9v-3.5h7v3.5h6v-4h9v3.5h2v-6h1v-1h1v.5h1v3h2v.5h12v.5h4v-.5h3v1.5h4v-1.5h6v1h9v-1.5h8v4h14v-3.5h14v3.5h17v-1.5h2v-1.5h5v-10h1v.5h1v-4.5h2v9h1v.5h1v4h11v1h11v-1h3v3.5h17v-3h3v3h16v-3h4v-1h8v4h23.5V2300.3Z" fill="#F98D0A" shape-rendering="crispEdges"/>
<line x1="1240.0" y1="2299.8" x2="1541.5" y2="2299.8" stroke="#F98D0A" stroke-width="1.7"/>
<text x="1201.3" y="2341.0" font-size="31" fill="#000" textLength="32.5" lengthAdjust="spacingAndGlyphs">S5</text>
<path d="M1240,2368.4v-3.5h8v1h5v-1.5h6v1h4v3h23v-3.5h2v3.5h20v-2.5h6v-1h9v.5h3v.5h3v2.5h4v-.5h1v-.5h1v-1h1v-6h1v-1.5h1v1h1v4h2v1h1v-.5h6v.5h3v3.5h9v-2.5h7v2.5h5v-2.5h4v-1h5v1h7v.5h3v-1.5h6v1h6v2.5h4v-2.5h12v2.5h12v-2.5h8v-7h1v-.5h1v-2h1v-.5h1v6.5h1v.5h1v2h4v2.5h2v1h2v-3h6v3h3v-3.5h5v.5h4v3h10v-2.5h3v2.5h6v-3h7v3h17v-2.5h8v-1h10v3.5h4v-2.5h5v.5h.5V2368.4Z" fill="#F98D0A" shape-rendering="crispEdges"/>
<line x1="1240.0" y1="2367.9" x2="1541.5" y2="2367.9" stroke="#F98D0A" stroke-width="1.7"/>
<text x="1201.3" y="2408.5" font-size="31" fill="#000" textLength="33.5" lengthAdjust="spacingAndGlyphs">S6</text>
<path d="M1240,2437.5h17v-2.5h2v.5h3v2h10v-3h8v3h8v-3.5h15v1h11v2.5h7v-3.5h9v3.5h3v-.5h1v-.5h1v-2.5h1v-4h1v-2h1v.5h1v4.5h2v2h3v-.5h2v3h5v-2.5h8v-.5h9v.5h4v-1h2v3.5h8v-3h3v3h12v-3.5h6v3.5h3v-3h9v-1h7v4h3v-2h9v-1.5h5v-11.5h1v-1.5h1v-4h1v.5h1v10.5h2v6.5h2v-.5h9v1h3v-1h7v3.5h7v-2.5h3v2.5h13v-2h9v2h14v-3h20v3h9.5V2437.5Z" fill="#F98D0A" shape-rendering="crispEdges"/>
<line x1="1240.0" y1="2437.0" x2="1541.5" y2="2437.0" stroke="#F98D0A" stroke-width="1.7"/>
<rect x="1187.8" y="1359.2" width="2.9" height="121.7" fill="#6E6E6E"/>
<rect x="1187.8" y="1494.0" width="2.9" height="398.7" fill="#000"/>
<rect x="1187.8" y="1903.2" width="2.9" height="127.9" fill="#1212DC"/>
<rect x="1187.8" y="2041.0" width="2.9" height="395.3" fill="#E3171E"/>
<text x="1179.8" y="1428.3" font-size="31" fill="#6E6E6E" text-anchor="end" textLength="64.4" lengthAdjust="spacingAndGlyphs">NSM</text>
<text x="1170.0" y="1672.3" font-size="31" fill="#000" font-style="italic" text-anchor="end" textLength="40.0" lengthAdjust="spacingAndGlyphs">KIT</text>
<text x="1169.0" y="1710.7" font-size="31" fill="#000" text-anchor="end" textLength="99.0" lengthAdjust="spacingAndGlyphs">mutant</text>
<text x="1170.5" y="1952.8" font-size="31" fill="#1212DC" font-style="italic" text-anchor="end" textLength="107.4" lengthAdjust="spacingAndGlyphs">PDGFRA</text>
<text x="1169.0" y="1990.9" font-size="31" fill="#1212DC" text-anchor="end" textLength="99.0" lengthAdjust="spacingAndGlyphs">mutant</text>
<text x="1171.5" y="2219.7" font-size="31" fill="#E3171E" text-anchor="end" textLength="60.7" lengthAdjust="spacingAndGlyphs">SDH</text>
<text x="1169.0" y="2257.5" font-size="31" fill="#E3171E" text-anchor="end" textLength="116.6" lengthAdjust="spacingAndGlyphs">deficient</text>
<line x1="1238.8" y1="2443.8" x2="1541.5" y2="2443.8" stroke="#000" stroke-width="1.8"/>
<line x1="1281.5" y1="2443.8" x2="1281.5" y2="2461.7" stroke="#000" stroke-width="1.5"/>
<line x1="1425.5" y1="2443.8" x2="1425.5" y2="2461.7" stroke="#000" stroke-width="1.5"/>
<text x="1281.5" y="2490.6" font-size="25" fill="#000" text-anchor="middle" textLength="65.0" lengthAdjust="spacingAndGlyphs">54.43</text>
<text x="1425.5" y="2490.6" font-size="25" fill="#000" text-anchor="middle" textLength="65.0" lengthAdjust="spacingAndGlyphs">54.44</text>
<text x="1478.0" y="2467.6" font-size="25" fill="#000" font-weight="bold" textLength="58.0" lengthAdjust="spacingAndGlyphs">chr4</text>
<text x="1496.2" y="2499.2" font-size="25" fill="#000" font-weight="bold" textLength="42.0" lengthAdjust="spacingAndGlyphs">Mb</text>
<text x="638.3" y="1254.6" font-size="40" fill="#000" font-weight="bold" textLength="25.0" lengthAdjust="spacingAndGlyphs">d</text>
<line x1="745.0" y1="1344.5" x2="745.0" y2="1746.8" stroke="#000" stroke-width="1.6"/>
<line x1="730.4" y1="1746.0" x2="892.1" y2="1746.0" stroke="#000" stroke-width="1.6"/>
<line x1="731.5" y1="1746.0" x2="745.0" y2="1746.0" stroke="#000" stroke-width="1.5"/>
<text x="724.2" y="1746.0" font-size="25" fill="#000" text-anchor="middle" textLength="12.2" lengthAdjust="spacingAndGlyphs" transform="rotate(-90 724.2 1746.0)">0</text>
<line x1="731.5" y1="1665.8" x2="745.0" y2="1665.8" stroke="#000" stroke-width="1.5"/>
<text x="724.2" y="1665.8" font-size="25" fill="#000" text-anchor="middle" textLength="36.6" lengthAdjust="spacingAndGlyphs" transform="rotate(-90 724.2 1665.8)">100</text>
<line x1="731.5" y1="1585.7" x2="745.0" y2="1585.7" stroke="#000" stroke-width="1.5"/>
<text x="724.2" y="1585.7" font-size="25" fill="#000" text-anchor="middle" textLength="36.6" lengthAdjust="spacingAndGlyphs" transform="rotate(-90 724.2 1585.7)">200</text>
<line x1="731.5" y1="1505.5" x2="745.0" y2="1505.5" stroke="#000" stroke-width="1.5"/>
<text x="724.2" y="1505.5" font-size="25" fill="#000" text-anchor="middle" textLength="36.6" lengthAdjust="spacingAndGlyphs" transform="rotate(-90 724.2 1505.5)">300</text>
<line x1="731.5" y1="1425.4" x2="745.0" y2="1425.4" stroke="#000" stroke-width="1.5"/>
<text x="724.2" y="1425.4" font-size="25" fill="#000" text-anchor="middle" textLength="36.6" lengthAdjust="spacingAndGlyphs" transform="rotate(-90 724.2 1425.4)">400</text>
<line x1="731.5" y1="1345.2" x2="745.0" y2="1345.2" stroke="#000" stroke-width="1.5"/>
<text x="724.2" y="1345.2" font-size="25" fill="#000" text-anchor="middle" textLength="36.6" lengthAdjust="spacingAndGlyphs" transform="rotate(-90 724.2 1345.2)">500</text>
<line x1="770.1" y1="1746.0" x2="770.1" y2="1760.5" stroke="#000" stroke-width="1.5"/>
<line x1="800.4" y1="1746.0" x2="800.4" y2="1760.5" stroke="#000" stroke-width="1.5"/>
<line x1="830.4" y1="1746.0" x2="830.4" y2="1760.5" stroke="#000" stroke-width="1.5"/>
<line x1="862.0" y1="1746.0" x2="862.0" y2="1760.5" stroke="#000" stroke-width="1.5"/>
<text x="725.5" y="1284.3" font-size="25" fill="#000" textLength="161.5" lengthAdjust="spacingAndGlyphs">CTCF Binding</text>
<text x="685.6" y="1318.8" font-size="25" fill="#000" textLength="242.0" lengthAdjust="spacingAndGlyphs">FGF Insulator Peak 2</text>
<text x="689.1" y="1541.5" font-size="25" fill="#000" text-anchor="middle" textLength="260.5" lengthAdjust="spacingAndGlyphs" transform="rotate(-90 689.1 1541.5)">Normalized CTCF Binding</text>
<circle cx="770.6" cy="1425.4" r="5.7" fill="#A6A6A6"/>
<circle cx="770.6" cy="1478.3" r="5.7" fill="#A6A6A6"/>
<circle cx="770.6" cy="1482.3" r="5.7" fill="#A6A6A6"/>
<circle cx="770.6" cy="1517.6" r="5.7" fill="#A6A6A6"/>
<circle cx="770.6" cy="1523.2" r="5.7" fill="#A6A6A6"/>
<circle cx="801.0" cy="1345.2" r="5.7" fill="#000"/>
<circle cx="801.0" cy="1350.1" r="5.7" fill="#000"/>
<circle cx="801.0" cy="1354.9" r="5.7" fill="#000"/>
<circle cx="801.0" cy="1367.7" r="5.7" fill="#000"/>
<circle cx="801.0" cy="1372.5" r="5.7" fill="#000"/>
<circle cx="801.0" cy="1377.3" r="5.7" fill="#000"/>
<circle cx="801.0" cy="1389.3" r="5.7" fill="#000"/>
<circle cx="801.0" cy="1423.8" r="5.7" fill="#000"/>
<circle cx="801.0" cy="1445.4" r="5.7" fill="#000"/>
<circle cx="801.0" cy="1491.1" r="5.7" fill="#000"/>
<circle cx="801.0" cy="1497.5" r="5.7" fill="#000"/>
<circle cx="801.0" cy="1503.1" r="5.7" fill="#000"/>
<circle cx="801.0" cy="1597.7" r="5.7" fill="#000"/>
<circle cx="831.0" cy="1405.4" r="5.7" fill="#0A0AEE"/>
<circle cx="831.0" cy="1450.2" r="5.7" fill="#0A0AEE"/>
<circle cx="862.5" cy="1603.3" r="5.7" fill="#EE1C24"/>
<circle cx="862.5" cy="1631.4" r="5.7" fill="#EE1C24"/>
<circle cx="862.5" cy="1645.0" r="5.7" fill="#EE1C24"/>
<circle cx="862.5" cy="1649.8" r="5.7" fill="#EE1C24"/>
<circle cx="862.5" cy="1689.9" r="5.7" fill="#EE1C24"/>
<circle cx="862.5" cy="1729.2" r="5.7" fill="#EE1C24"/>
<line x1="760.5" y1="1487.9" x2="779.5" y2="1487.9" stroke="#A6A6A6" stroke-width="4.6" stroke-linecap="round"/>
<line x1="790.8" y1="1435.8" x2="809.8" y2="1435.8" stroke="#000" stroke-width="4.6" stroke-linecap="round"/>
<line x1="821.5" y1="1427.4" x2="840.5" y2="1427.4" stroke="#0A0AEE" stroke-width="4.6" stroke-linecap="round"/>
<line x1="852.5" y1="1657.0" x2="871.5" y2="1657.0" stroke="#EE1C24" stroke-width="4.6" stroke-linecap="round"/>
<text x="779.0" y="1771.5" font-size="24" fill="#8C8C8C" text-anchor="end" textLength="50.0" lengthAdjust="spacingAndGlyphs" transform="rotate(-90 779.0 1771.5)">NSM</text>
<text x="810.9" y="1771.5" font-size="24" fill="#000" text-anchor="end" textLength="32.5" lengthAdjust="spacingAndGlyphs" transform="rotate(-90 810.9 1771.5)">KIT</text>
<text x="842.0" y="1771.5" font-size="24" fill="#0A0AEE" text-anchor="end" textLength="85.0" lengthAdjust="spacingAndGlyphs" transform="rotate(-90 842.0 1771.5)">PDGFRA</text>
<text x="874.0" y="1771.5" font-size="24" fill="#EE1C24" text-anchor="end" textLength="86.8" lengthAdjust="spacingAndGlyphs" transform="rotate(-90 874.0 1771.5)">SDH-def</text>
<text x="745.0" y="1723.9" font-size="21" fill="#000" font-style="italic" textLength="13.5" lengthAdjust="spacingAndGlyphs">P</text>
<text x="764.8" y="1723.9" font-size="21" fill="#000" textLength="71.2" lengthAdjust="spacingAndGlyphs">&lt; 4 x 10</text>
<text x="837.0" y="1717.4" font-size="14" fill="#000" textLength="3.2" lengthAdjust="spacingAndGlyphs">-</text>
<rect x="844.2" y="1711.6" width="9.6" height="12" fill="none" stroke="#b4b4b4" stroke-width="1"/>
<text x="1620.0" y="1253.3" font-size="40" fill="#000" font-weight="bold" textLength="17.5" lengthAdjust="spacingAndGlyphs">f</text>
<line x1="1728.7" y1="1365.7" x2="1728.7" y2="1767.7" stroke="#000" stroke-width="1.6"/>
<line x1="1715.0" y1="1766.9" x2="1872.1" y2="1766.9" stroke="#000" stroke-width="1.6"/>
<line x1="1715.2" y1="1766.9" x2="1728.7" y2="1766.9" stroke="#000" stroke-width="1.5"/>
<text x="1707.9" y="1766.9" font-size="25" fill="#000" text-anchor="middle" textLength="12.2" lengthAdjust="spacingAndGlyphs" transform="rotate(-90 1707.9 1766.9)">0</text>
<line x1="1715.2" y1="1700.2" x2="1728.7" y2="1700.2" stroke="#000" stroke-width="1.5"/>
<text x="1707.9" y="1700.2" font-size="25" fill="#000" text-anchor="middle" textLength="24.4" lengthAdjust="spacingAndGlyphs" transform="rotate(-90 1707.9 1700.2)">50</text>
<line x1="1715.2" y1="1633.4" x2="1728.7" y2="1633.4" stroke="#000" stroke-width="1.5"/>
<text x="1707.9" y="1633.4" font-size="25" fill="#000" text-anchor="middle" textLength="36.6" lengthAdjust="spacingAndGlyphs" transform="rotate(-90 1707.9 1633.4)">100</text>
<line x1="1715.2" y1="1566.7" x2="1728.7" y2="1566.7" stroke="#000" stroke-width="1.5"/>
<text x="1707.9" y="1566.7" font-size="25" fill="#000" text-anchor="middle" textLength="36.6" lengthAdjust="spacingAndGlyphs" transform="rotate(-90 1707.9 1566.7)">150</text>
<line x1="1715.2" y1="1500.0" x2="1728.7" y2="1500.0" stroke="#000" stroke-width="1.5"/>
<text x="1707.9" y="1500.0" font-size="25" fill="#000" text-anchor="middle" textLength="36.6" lengthAdjust="spacingAndGlyphs" transform="rotate(-90 1707.9 1500.0)">200</text>
<line x1="1715.2" y1="1433.2" x2="1728.7" y2="1433.2" stroke="#000" stroke-width="1.5"/>
<text x="1707.9" y="1433.2" font-size="25" fill="#000" text-anchor="middle" textLength="36.6" lengthAdjust="spacingAndGlyphs" transform="rotate(-90 1707.9 1433.2)">250</text>
<line x1="1715.2" y1="1366.5" x2="1728.7" y2="1366.5" stroke="#000" stroke-width="1.5"/>
<text x="1707.9" y="1366.5" font-size="25" fill="#000" text-anchor="middle" textLength="36.6" lengthAdjust="spacingAndGlyphs" transform="rotate(-90 1707.9 1366.5)">300</text>
<line x1="1751.2" y1="1766.9" x2="1751.2" y2="1781.4" stroke="#000" stroke-width="1.5"/>
<line x1="1781.3" y1="1766.9" x2="1781.3" y2="1781.4" stroke="#000" stroke-width="1.5"/>
<line x1="1811.5" y1="1766.9" x2="1811.5" y2="1781.4" stroke="#000" stroke-width="1.5"/>
<line x1="1841.6" y1="1766.9" x2="1841.6" y2="1781.4" stroke="#000" stroke-width="1.5"/>
<text x="1724.2" y="1300.5" font-size="25" fill="#000" textLength="162.5" lengthAdjust="spacingAndGlyphs">CTCF Binding</text>
<text x="1689.4" y="1335.5" font-size="25" fill="#000" textLength="234.0" lengthAdjust="spacingAndGlyphs">KIT Insulator Peak 2</text>
<text x="1671.6" y="1567.0" font-size="25.5" fill="#000" text-anchor="middle" textLength="288.5" lengthAdjust="spacingAndGlyphs" transform="rotate(-90 1671.6 1567.0)">Normalized CTCF Binding</text>
<circle cx="1751.5" cy="1521.3" r="5.7" fill="#A6A6A6"/>
<circle cx="1751.5" cy="1542.7" r="5.7" fill="#A6A6A6"/>
<circle cx="1751.5" cy="1556.0" r="5.7" fill="#A6A6A6"/>
<circle cx="1751.5" cy="1594.7" r="5.7" fill="#A6A6A6"/>
<circle cx="1781.8" cy="1394.5" r="5.7" fill="#000"/>
<circle cx="1781.8" cy="1417.2" r="5.7" fill="#000"/>
<circle cx="1781.8" cy="1445.2" r="5.7" fill="#000"/>
<circle cx="1781.8" cy="1498.6" r="5.7" fill="#000"/>
<circle cx="1781.8" cy="1542.7" r="5.7" fill="#000"/>
<circle cx="1781.8" cy="1557.4" r="5.7" fill="#000"/>
<circle cx="1781.8" cy="1560.0" r="5.7" fill="#000"/>
<circle cx="1781.8" cy="1577.4" r="5.7" fill="#000"/>
<circle cx="1781.8" cy="1582.7" r="5.7" fill="#000"/>
<circle cx="1781.8" cy="1596.1" r="5.7" fill="#000"/>
<circle cx="1811.4" cy="1462.6" r="5.7" fill="#0A0AEE"/>
<circle cx="1811.4" cy="1502.6" r="5.7" fill="#0A0AEE"/>
<circle cx="1841.6" cy="1586.7" r="5.7" fill="#EE1C24"/>
<circle cx="1841.6" cy="1622.8" r="5.7" fill="#EE1C24"/>
<circle cx="1841.6" cy="1624.1" r="5.7" fill="#EE1C24"/>
<circle cx="1841.6" cy="1661.5" r="5.7" fill="#EE1C24"/>
<circle cx="1841.6" cy="1670.8" r="5.7" fill="#EE1C24"/>
<circle cx="1841.6" cy="1713.5" r="5.7" fill="#EE1C24"/>
<line x1="1742.7" y1="1553.3" x2="1761.7" y2="1553.3" stroke="#A6A6A6" stroke-width="4.6" stroke-linecap="round"/>
<line x1="1772.7" y1="1508.0" x2="1791.7" y2="1508.0" stroke="#000" stroke-width="4.6" stroke-linecap="round"/>
<line x1="1802.9" y1="1482.6" x2="1821.9" y2="1482.6" stroke="#0A0AEE" stroke-width="4.6" stroke-linecap="round"/>
<line x1="1832.3" y1="1646.8" x2="1851.3" y2="1646.8" stroke="#EE1C24" stroke-width="4.6" stroke-linecap="round"/>
<text x="1761.3" y="1787.5" font-size="24" fill="#8C8C8C" text-anchor="end" textLength="52.0" lengthAdjust="spacingAndGlyphs" transform="rotate(-90 1761.3 1787.5)">NSM</text>
<text x="1791.3" y="1787.5" font-size="24" fill="#000" text-anchor="end" textLength="33.5" lengthAdjust="spacingAndGlyphs" transform="rotate(-90 1791.3 1787.5)">KIT</text>
<text x="1821.0" y="1787.5" font-size="24" fill="#0A0AEE" text-anchor="end" textLength="86.5" lengthAdjust="spacingAndGlyphs" transform="rotate(-90 1821.0 1787.5)">PDGFRA</text>
<text x="1851.2" y="1787.5" font-size="24" fill="#EE1C24" text-anchor="end" textLength="87.0" lengthAdjust="spacingAndGlyphs" transform="rotate(-90 1851.2 1787.5)">SDH-def</text>
<text x="1738.5" y="1754.7" font-size="21" fill="#000" font-style="italic" textLength="13.5" lengthAdjust="spacingAndGlyphs">P</text>
<text x="1758.3" y="1754.7" font-size="21" fill="#000" textLength="71.2" lengthAdjust="spacingAndGlyphs">&lt; 4 x 10</text>
<text x="1830.5" y="1748.2" font-size="14" fill="#000" textLength="3.2" lengthAdjust="spacingAndGlyphs">-</text>
<rect x="1837.7" y="1742.4" width="9.6" height="12" fill="none" stroke="#b4b4b4" stroke-width="1"/>
</svg>
</body></html>
